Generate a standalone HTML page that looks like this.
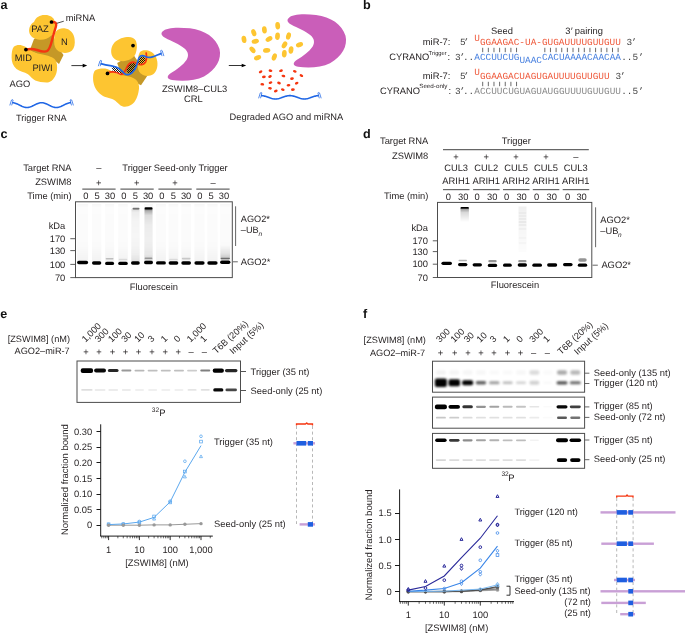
<!DOCTYPE html>
<html><head><meta charset="utf-8"><style>
html,body{margin:0;padding:0;background:#fff;}
svg{display:block;will-change:transform;text-rendering:geometricPrecision;font-family:"Liberation Sans",sans-serif;}
</style></head><body>
<svg width="685" height="633" viewBox="0 0 685 633">
<text x="0.6" y="8.8" font-size="12.6" text-anchor="start" fill="#111" font-weight="bold" >a</text>
<text x="362.9" y="8.8" font-size="12.6" text-anchor="start" fill="#111" font-weight="bold" >b</text>
<text x="0.4" y="137.6" font-size="12.6" text-anchor="start" fill="#111" font-weight="bold" >c</text>
<text x="362.9" y="137.7" font-size="12.6" text-anchor="start" fill="#111" font-weight="bold" >d</text>
<text x="0.2" y="317.6" font-size="12.6" text-anchor="start" fill="#111" font-weight="bold" >e</text>
<text x="362.9" y="317.7" font-size="12.6" text-anchor="start" fill="#111" font-weight="bold" >f</text>
<path d="M50,30 L34,39 L31,47 L30,51 L46,57.5 L56,61.5 L59,64 L63.5,55 L60,50 Z" fill="#c59827"/>
<path d="M34,22 C36,17 40,15 44.2,15 C49,14.5 53.5,17 54.5,20.5 C56.5,26 55,32 51.8,35.3 C47.5,39.5 42,40.5 38,39.5 C33,38.5 30,36 29.2,32 C28.7,28 30.5,24 34,22 Z" fill="#fdc531"/>
<path d="M55.6,32 C57.5,29 61,28 64.4,28.3 C70,28.8 74,33.5 74.6,39 C75.2,44 74.5,48 72,50.5 C69,53.5 63,53.6 59,51.6 C55.6,49.8 54,46 54.1,41.6 C54.2,37.5 54.3,34 55.6,32 Z" fill="#fdc531"/>
<path d="M13.8,46.7 C16,45 19,44.8 22,45.4 C26,46.3 29.5,50 33,51.7 C38,54 43,54.3 47,55.5 C52,57 55.3,58.5 56.4,62 C57.4,65.5 57.3,70 56.4,73 C55,78 51.5,82.2 47.5,82.4 C43,82.5 38.5,81.8 35.3,80.5 C32,79 30.5,76 28,74.3 C24.5,72 19.5,71.5 16.5,69 C13,66 11.6,62 11.6,57.5 C11.6,53 12,49 13.8,46.7 Z" fill="#fdc531"/>
<path d="M25.9,49.6 C30,48.6 33,48.8 37,50 C41,51.4 44.5,52.4 47,51 C49.5,49.5 50.6,46 51.8,41 C53,36 54.6,31 55.8,27 C56.7,24 56,22.5 54.5,22.2 C53.5,22 52.5,22 51.5,22" fill="none" stroke="#f5350f" stroke-width="2.4" stroke-linecap="round"/>
<circle cx="25.9" cy="49.6" r="1.85" fill="#000"/><circle cx="51.5" cy="22" r="1.85" fill="#000"/>
<line x1="56.8" y1="23.3" x2="63.8" y2="21.2" stroke="#000" stroke-width="0.7" />
<text x="65.7" y="21.4" font-size="9.35" text-anchor="start" fill="#231f20" font-weight="normal" >miRNA</text>
<text x="31.3" y="32.1" font-size="9.35" text-anchor="start" fill="#231f20" font-weight="normal" >PAZ</text>
<text x="61.0" y="44.8" font-size="9.35" text-anchor="start" fill="#231f20" font-weight="normal" >N</text>
<text x="14.8" y="60.6" font-size="9.35" text-anchor="start" fill="#231f20" font-weight="normal" >MID</text>
<text x="32.4" y="71.3" font-size="9.35" text-anchor="start" fill="#231f20" font-weight="normal" >PIWI</text>
<text x="9.6" y="86.6" font-size="9.35" text-anchor="start" fill="#231f20" font-weight="normal" >AGO</text>
<polyline points="12.20,102.70 12.93,102.73 13.67,102.82 14.40,102.96 15.14,103.16 15.88,103.40 16.61,103.69 17.34,104.01 18.08,104.36 18.81,104.72 19.55,105.10 20.29,105.48 21.02,105.84 21.75,106.19 22.49,106.51 23.22,106.80 23.96,107.04 24.70,107.24 25.43,107.38 26.16,107.47 26.90,107.50 27.63,107.47 28.37,107.38 29.10,107.24 29.84,107.04 30.57,106.80 31.31,106.51 32.05,106.19 32.78,105.84 33.52,105.48 34.25,105.10 34.98,104.72 35.72,104.36 36.45,104.01 37.19,103.69 37.92,103.40 38.66,103.16 39.39,102.96 40.13,102.82 40.86,102.73 41.60,102.70 42.33,102.73 43.07,102.82 43.80,102.96 44.54,103.16 45.27,103.40 46.01,103.69 46.75,104.01 47.48,104.36 48.22,104.72 48.95,105.10 49.68,105.48 50.42,105.84 51.16,106.19 51.89,106.51 52.62,106.80 53.36,107.04 54.09,107.24 54.83,107.38 55.56,107.47 56.30,107.50 57.03,107.47 57.77,107.38 58.50,107.24 59.24,107.04 59.97,106.80 60.71,106.51 61.44,106.19 62.18,105.84 62.92,105.48 63.65,105.10 64.38,104.72 65.12,104.36 65.85,104.01 66.59,103.69 67.33,103.40 68.06,103.16 68.80,102.96 69.53,102.82 70.27,102.73 71.00,102.70" fill="none" stroke="#1f66e5" stroke-width="1.6"/>
<path d="M9.80,105.40 L11.50,100.00 Q12.30,99.20 13.10,100.00 L11.70,105.40" stroke="#1f66e5" stroke-width="0.75" fill="none"/>
<path d="M73.40,105.40 L71.70,100.00 Q70.90,99.20 70.10,100.00 L71.50,105.40" stroke="#1f66e5" stroke-width="0.75" fill="none"/>
<text x="16" y="120.6" font-size="9.2" text-anchor="start" fill="#231f20" font-weight="normal" >Trigger RNA</text>
<line x1="71.4" y1="65.6" x2="84.2" y2="65.6" stroke="#000" stroke-width="0.8" />
<path d="M87.2,65.6 L82.7,63.8 L82.7,67.39999999999999 Z" fill="#000"/>
<line x1="228.8" y1="65.5" x2="243.2" y2="65.5" stroke="#000" stroke-width="0.8" />
<path d="M246.2,65.5 L241.7,63.7 L241.7,67.3 Z" fill="#000"/>
<path d="M117.2,62.9 L133,54 L147.2,76 L141,85.2 L121.6,75.5 Z" fill="#c59827"/>
<path d="M113.4,43.9 C116,40 122,37.5 127,37 C131,36.5 134.5,38 136,41 C137.5,45 137,50 135.5,54 C133.5,58.5 128,61 123,61.2 C118,61.3 114,59.5 112.2,56 C110.5,52 111,47 113.4,43.9 Z" fill="#fdc531"/>
<path d="M140,52 C142,50 145,49.8 148,50.6 C153,52 156.6,56 157.3,61.6 C158,67 156.5,72 153.2,74.3 C150,76.2 146,76.4 143,75 C139.5,73.5 138,70.5 137.8,67 C137.6,62 137.8,55.5 140,52 Z" fill="#fdc531"/>
<path d="M95,70.5 C98,68.7 102,68.2 105.2,68.6 C109,69.2 112,71.8 115.3,73 C120,74.8 124,75.6 128,76.2 C132,77 136,78.6 137.8,81.9 C139.3,84.8 139.3,88 138.7,90.7 C138,96 135.5,102 131.7,104.6 C128.5,106.8 125,107 122.9,106.5 C119.5,105.5 117.5,102.5 115.3,100.8 C111.5,98 106,98 102.6,95.8 C98,93 94.5,88 93.6,83.1 C92.8,78.5 92.8,73 95,70.5 Z" fill="#fdc531"/>
<clipPath id="h1"><path d="M111.5,66 L119,68.3 L122.5,72 L121.5,74.2 L118.5,73 L113,72 Z"/></clipPath>
<g clip-path="url(#h1)">
<line x1="96.00" y1="64" x2="108.00" y2="76" stroke="#111" stroke-width="1.0"/>
<line x1="98.00" y1="64" x2="110.00" y2="76" stroke="#111" stroke-width="1.0"/>
<line x1="100.00" y1="64" x2="112.00" y2="76" stroke="#111" stroke-width="1.0"/>
<line x1="102.00" y1="64" x2="114.00" y2="76" stroke="#111" stroke-width="1.0"/>
<line x1="104.00" y1="64" x2="116.00" y2="76" stroke="#111" stroke-width="1.0"/>
<line x1="106.00" y1="64" x2="118.00" y2="76" stroke="#111" stroke-width="1.0"/>
<line x1="108.00" y1="64" x2="120.00" y2="76" stroke="#111" stroke-width="1.0"/>
<line x1="110.00" y1="64" x2="122.00" y2="76" stroke="#111" stroke-width="1.0"/>
<line x1="112.00" y1="64" x2="124.00" y2="76" stroke="#111" stroke-width="1.0"/>
<line x1="114.00" y1="64" x2="126.00" y2="76" stroke="#111" stroke-width="1.0"/>
<line x1="116.00" y1="64" x2="128.00" y2="76" stroke="#111" stroke-width="1.0"/>
<line x1="118.00" y1="64" x2="130.00" y2="76" stroke="#111" stroke-width="1.0"/>
<line x1="120.00" y1="64" x2="132.00" y2="76" stroke="#111" stroke-width="1.0"/>
<line x1="122.00" y1="64" x2="134.00" y2="76" stroke="#111" stroke-width="1.0"/>
<line x1="124.00" y1="64" x2="136.00" y2="76" stroke="#111" stroke-width="1.0"/>
</g>
<clipPath id="h2"><path d="M127.5,65.5 L129.5,62.6 L133,62.3 L137,64 L135.3,68.8 L132,72.5 L128,73.8 L126.5,70 Z"/></clipPath>
<g clip-path="url(#h2)">
<line x1="108.00" y1="60" x2="124.00" y2="76" stroke="#111" stroke-width="1.0"/>
<line x1="110.00" y1="60" x2="126.00" y2="76" stroke="#111" stroke-width="1.0"/>
<line x1="112.00" y1="60" x2="128.00" y2="76" stroke="#111" stroke-width="1.0"/>
<line x1="114.00" y1="60" x2="130.00" y2="76" stroke="#111" stroke-width="1.0"/>
<line x1="116.00" y1="60" x2="132.00" y2="76" stroke="#111" stroke-width="1.0"/>
<line x1="118.00" y1="60" x2="134.00" y2="76" stroke="#111" stroke-width="1.0"/>
<line x1="120.00" y1="60" x2="136.00" y2="76" stroke="#111" stroke-width="1.0"/>
<line x1="122.00" y1="60" x2="138.00" y2="76" stroke="#111" stroke-width="1.0"/>
<line x1="124.00" y1="60" x2="140.00" y2="76" stroke="#111" stroke-width="1.0"/>
<line x1="126.00" y1="60" x2="142.00" y2="76" stroke="#111" stroke-width="1.0"/>
<line x1="128.00" y1="60" x2="144.00" y2="76" stroke="#111" stroke-width="1.0"/>
<line x1="130.00" y1="60" x2="146.00" y2="76" stroke="#111" stroke-width="1.0"/>
<line x1="132.00" y1="60" x2="148.00" y2="76" stroke="#111" stroke-width="1.0"/>
<line x1="134.00" y1="60" x2="150.00" y2="76" stroke="#111" stroke-width="1.0"/>
<line x1="136.00" y1="60" x2="152.00" y2="76" stroke="#111" stroke-width="1.0"/>
<line x1="138.00" y1="60" x2="154.00" y2="76" stroke="#111" stroke-width="1.0"/>
</g>
<clipPath id="h3"><path d="M138.2,58.5 L140.5,56.2 L144.5,56.5 L145.8,58.5 L145.3,62 L143,64.2 L139.5,64.6 L137.6,63.5 Z"/></clipPath>
<g clip-path="url(#h3)">
<line x1="122.00" y1="54" x2="135.00" y2="67" stroke="#111" stroke-width="1.0"/>
<line x1="124.00" y1="54" x2="137.00" y2="67" stroke="#111" stroke-width="1.0"/>
<line x1="126.00" y1="54" x2="139.00" y2="67" stroke="#111" stroke-width="1.0"/>
<line x1="128.00" y1="54" x2="141.00" y2="67" stroke="#111" stroke-width="1.0"/>
<line x1="130.00" y1="54" x2="143.00" y2="67" stroke="#111" stroke-width="1.0"/>
<line x1="132.00" y1="54" x2="145.00" y2="67" stroke="#111" stroke-width="1.0"/>
<line x1="134.00" y1="54" x2="147.00" y2="67" stroke="#111" stroke-width="1.0"/>
<line x1="136.00" y1="54" x2="149.00" y2="67" stroke="#111" stroke-width="1.0"/>
<line x1="138.00" y1="54" x2="151.00" y2="67" stroke="#111" stroke-width="1.0"/>
<line x1="140.00" y1="54" x2="153.00" y2="67" stroke="#111" stroke-width="1.0"/>
<line x1="142.00" y1="54" x2="155.00" y2="67" stroke="#111" stroke-width="1.0"/>
<line x1="144.00" y1="54" x2="157.00" y2="67" stroke="#111" stroke-width="1.0"/>
<line x1="146.00" y1="54" x2="159.00" y2="67" stroke="#111" stroke-width="1.0"/>
<line x1="148.00" y1="54" x2="161.00" y2="67" stroke="#111" stroke-width="1.0"/>
</g>
<path d="M107.6,73 C109.5,72 111.5,71.6 113.5,71.9 C116,72.3 118.5,73.2 120.5,74.2 C122,74.9 123.5,73.6 124.7,71.7 C125.7,70 126.3,68.5 127.3,66.5 C128.3,64.4 130,62.6 132.6,62.2 C134.5,62 136,63.3 137.5,64 C139,64.7 141,64.9 143.2,64.1 C145.3,63.2 146.2,61.5 146.4,59 C146.6,56.5 146.5,54.5 146.1,52.4" fill="none" stroke="#f5350f" stroke-width="1.7"/>
<path d="M100.7,63.6 C104,64.6 108,65.3 111.6,65.8 C114.5,66.3 117,67 119,68.5 C121,70 122.5,71.8 124.2,73.3 C125.8,74.6 127.5,74.9 129,74.5 C131,73.9 133,72 134.6,69.7 C136.2,67.4 137,64.6 137.7,61.8 C138.3,59.3 139,57 140.5,56 C142,55.1 144,55.8 145.8,56.8 C147.5,57.6 150,57.6 152.5,56.9 C155.5,56 158.5,54.4 161.5,53.4" fill="none" stroke="#1f66e5" stroke-width="1.7"/>
<circle cx="107.5" cy="73.4" r="1.85" fill="#000"/><circle cx="133" cy="45.6" r="1.85" fill="#000"/>
<path d="M98.30,66.20 L100.00,60.80 Q100.80,60.00 101.60,60.80 L100.20,66.20" stroke="#1f66e5" stroke-width="0.75" fill="none"/>
<path d="M163.90,56.10 L162.20,50.70 Q161.40,49.90 160.60,50.70 L162.00,56.10" stroke="#1f66e5" stroke-width="0.75" fill="none"/>
<path transform="translate(0,0)" d="M162.5,31.5 C166,27.5 177,27 190,28.3 C205,30 216,38 219.5,49 C222,59 216,70 204,76.5 C195,81 182,81.5 172,80 C166,79 167,75.5 171,73 C177,69.5 183,65 186.5,60 C189,56 188.5,52 184.5,48.5 C179.5,44 171,41 165.5,38 C161.5,36 160.5,33.5 162.5,31.5 Z" fill="#ca5eb9"/>
<path transform="translate(126,-13.3)" d="M162.5,31.5 C166,27.5 177,27 190,28.3 C205,30 216,38 219.5,49 C222,59 216,70 204,76.5 C195,81 182,81.5 172,80 C166,79 167,75.5 171,73 C177,69.5 183,65 186.5,60 C189,56 188.5,52 184.5,48.5 C179.5,44 171,41 165.5,38 C161.5,36 160.5,33.5 162.5,31.5 Z" fill="#ca5eb9"/>
<text x="194.6" y="91.6" font-size="9.35" text-anchor="middle" fill="#231f20" font-weight="normal" >ZSWIM8–CUL3</text>
<text x="193.4" y="102" font-size="9.35" text-anchor="middle" fill="#231f20" font-weight="normal" >CRL</text>
<ellipse cx="244" cy="39.4" rx="2.4" ry="3.7" transform="rotate(-10 244 39.4)" fill="#fdc531"/>
<ellipse cx="253.8" cy="32.7" rx="2.4" ry="3.7" transform="rotate(-20 253.8 32.7)" fill="#fdc531"/>
<ellipse cx="255.3" cy="41.3" rx="2.4" ry="3.7" transform="rotate(80 255.3 41.3)" fill="#fdc531"/>
<ellipse cx="252.5" cy="49.8" rx="2.4" ry="3.7" transform="rotate(-40 252.5 49.8)" fill="#fdc531"/>
<ellipse cx="257.6" cy="57.8" rx="2.4" ry="3.7" transform="rotate(70 257.6 57.8)" fill="#fdc531"/>
<ellipse cx="264.4" cy="29.9" rx="2.4" ry="3.7" transform="rotate(-5 264.4 29.9)" fill="#fdc531"/>
<ellipse cx="269" cy="39" rx="2.4" ry="3.7" transform="rotate(60 269 39)" fill="#fdc531"/>
<ellipse cx="266.7" cy="50.4" rx="2.4" ry="3.7" transform="rotate(85 266.7 50.4)" fill="#fdc531"/>
<ellipse cx="274.3" cy="57" rx="2.4" ry="3.7" transform="rotate(20 274.3 57)" fill="#fdc531"/>
<ellipse cx="277.7" cy="25.7" rx="2.4" ry="3.7" transform="rotate(-5 277.7 25.7)" fill="#fdc531"/>
<ellipse cx="277.5" cy="36.2" rx="2.4" ry="3.7" transform="rotate(5 277.5 36.2)" fill="#fdc531"/>
<ellipse cx="288.5" cy="36" rx="2.4" ry="3.7" transform="rotate(15 288.5 36)" fill="#fdc531"/>
<ellipse cx="284.5" cy="44.9" rx="2.4" ry="3.7" transform="rotate(30 284.5 44.9)" fill="#fdc531"/>
<ellipse cx="284.3" cy="53.8" rx="2.4" ry="3.7" transform="rotate(5 284.3 53.8)" fill="#fdc531"/>
<ellipse cx="291" cy="50" rx="2.4" ry="3.7" transform="rotate(10 291 50)" fill="#fdc531"/>
<ellipse cx="299.5" cy="44.7" rx="2.4" ry="3.7" transform="rotate(70 299.5 44.7)" fill="#fdc531"/>
<ellipse cx="260.6" cy="71.8" rx="1.9" ry="1.3" transform="rotate(-30 260.6 71.8)" fill="#f5350f"/>
<ellipse cx="270.5" cy="70.7" rx="1.9" ry="1.3" transform="rotate(7 270.5 70.7)" fill="#f5350f"/>
<ellipse cx="281" cy="70.7" rx="1.9" ry="1.3" transform="rotate(-16 281 70.7)" fill="#f5350f"/>
<ellipse cx="294.8" cy="71.4" rx="1.9" ry="1.3" transform="rotate(21 294.8 71.4)" fill="#f5350f"/>
<ellipse cx="263.9" cy="76.9" rx="1.9" ry="1.3" transform="rotate(-2 263.9 76.9)" fill="#f5350f"/>
<ellipse cx="270" cy="76.5" rx="1.9" ry="1.3" transform="rotate(-25 270 76.5)" fill="#f5350f"/>
<ellipse cx="283.4" cy="76" rx="1.9" ry="1.3" transform="rotate(12 283.4 76)" fill="#f5350f"/>
<ellipse cx="292" cy="78.6" rx="1.9" ry="1.3" transform="rotate(-11 292 78.6)" fill="#f5350f"/>
<ellipse cx="301.4" cy="75.6" rx="1.9" ry="1.3" transform="rotate(26 301.4 75.6)" fill="#f5350f"/>
<ellipse cx="262.3" cy="84.3" rx="1.9" ry="1.3" transform="rotate(3 262.3 84.3)" fill="#f5350f"/>
<ellipse cx="270.5" cy="82.6" rx="1.9" ry="1.3" transform="rotate(-20 270.5 82.6)" fill="#f5350f"/>
<ellipse cx="279" cy="83" rx="1.9" ry="1.3" transform="rotate(17 279 83)" fill="#f5350f"/>
<ellipse cx="288.5" cy="85.3" rx="1.9" ry="1.3" transform="rotate(-6 288.5 85.3)" fill="#f5350f"/>
<ellipse cx="296.7" cy="83.2" rx="1.9" ry="1.3" transform="rotate(-29 296.7 83.2)" fill="#f5350f"/>
<ellipse cx="270" cy="88.3" rx="1.9" ry="1.3" transform="rotate(8 270 88.3)" fill="#f5350f"/>
<ellipse cx="275.8" cy="91" rx="1.9" ry="1.3" transform="rotate(-15 275.8 91)" fill="#f5350f"/>
<ellipse cx="282.8" cy="89.6" rx="1.9" ry="1.3" transform="rotate(22 282.8 89.6)" fill="#f5350f"/>
<ellipse cx="292.9" cy="89.6" rx="1.9" ry="1.3" transform="rotate(-1 292.9 89.6)" fill="#f5350f"/>
<polyline points="261.00,95.60 261.72,95.62 262.44,95.68 263.17,95.79 263.89,95.92 264.61,96.10 265.33,96.30 266.06,96.53 266.78,96.77 267.50,97.03 268.23,97.30 268.95,97.57 269.67,97.83 270.39,98.07 271.12,98.30 271.84,98.50 272.56,98.68 273.28,98.81 274.00,98.92 274.73,98.98 275.45,99.00 276.17,98.98 276.89,98.92 277.62,98.81 278.34,98.68 279.06,98.50 279.79,98.30 280.51,98.07 281.23,97.83 281.95,97.57 282.68,97.30 283.40,97.03 284.12,96.77 284.84,96.53 285.56,96.30 286.29,96.10 287.01,95.92 287.73,95.79 288.45,95.68 289.18,95.62 289.90,95.60 290.62,95.62 291.35,95.68 292.07,95.79 292.79,95.92 293.51,96.10 294.24,96.30 294.96,96.53 295.68,96.77 296.40,97.03 297.12,97.30 297.85,97.57 298.57,97.83 299.29,98.07 300.01,98.30 300.74,98.50 301.46,98.68 302.18,98.81 302.91,98.92 303.63,98.98 304.35,99.00 305.07,98.98 305.80,98.92 306.52,98.81 307.24,98.68 307.96,98.50 308.69,98.30 309.41,98.07 310.13,97.83 310.85,97.57 311.57,97.30 312.30,97.03 313.02,96.77 313.74,96.53 314.47,96.30 315.19,96.10 315.91,95.92 316.63,95.79 317.36,95.68 318.08,95.62 318.80,95.60" fill="none" stroke="#1f66e5" stroke-width="1.6"/>
<path d="M258.60,98.30 L260.30,92.90 Q261.10,92.10 261.90,92.90 L260.50,98.30" stroke="#1f66e5" stroke-width="0.75" fill="none"/>
<path d="M321.20,98.30 L319.50,92.90 Q318.70,92.10 317.90,92.90 L319.30,98.30" stroke="#1f66e5" stroke-width="0.75" fill="none"/>
<text x="229.6" y="120.3" font-size="9.3" text-anchor="start" fill="#231f20" font-weight="normal" >Degraded AGO and miRNA</text>
<text x="491.0" y="33.9" font-size="9.35" text-anchor="start" fill="#231f20" font-weight="normal" >Seed</text>
<text x="565.3" y="33.9" font-size="9.35" text-anchor="start" fill="#231f20" font-weight="normal" >3<tspan font-style="italic">′</tspan> pairing</text>
<text x="450.3" y="45.1" font-size="9.35" text-anchor="end" fill="#231f20" font-weight="normal" >miR-7:</text>
<text x="460.0" y="45.2" font-size="9.4" fill="#444" font-family="Liberation Mono, monospace">5</text>
<text x="463.6" y="45.2" font-size="9.4" fill="#444" font-family="Liberation Mono, monospace">’</text>
<text x="474.3" y="41.4" font-size="9.4" fill="#ef5a3c" font-family="Liberation Mono, monospace" textLength="5.64" lengthAdjust="spacingAndGlyphs">U</text>
<text x="479.9" y="45.2" font-size="9.4" fill="#ef5a3c" font-family="Liberation Mono, monospace" textLength="141.00" lengthAdjust="spacingAndGlyphs">GGAAGAC-UA-GUGAUUUUGUUGUU</text>
<text x="626.6" y="45.2" font-size="9.4" fill="#444" font-family="Liberation Mono, monospace">3</text>
<text x="631.2" y="45.2" font-size="9.4" fill="#444" font-family="Liberation Mono, monospace">’</text>
<line x1="482.7" y1="47.8" x2="482.7" y2="52.2" stroke="#444" stroke-width="0.8" />
<line x1="488.34" y1="47.8" x2="488.34" y2="52.2" stroke="#444" stroke-width="0.8" />
<line x1="493.97999999999996" y1="47.8" x2="493.97999999999996" y2="52.2" stroke="#444" stroke-width="0.8" />
<line x1="499.62" y1="47.8" x2="499.62" y2="52.2" stroke="#444" stroke-width="0.8" />
<line x1="505.26" y1="47.8" x2="505.26" y2="52.2" stroke="#444" stroke-width="0.8" />
<line x1="510.9" y1="47.8" x2="510.9" y2="52.2" stroke="#444" stroke-width="0.8" />
<line x1="516.54" y1="47.8" x2="516.54" y2="52.2" stroke="#444" stroke-width="0.8" />
<line x1="544.82" y1="47.8" x2="544.82" y2="52.2" stroke="#444" stroke-width="0.8" />
<line x1="550.46" y1="47.8" x2="550.46" y2="52.2" stroke="#444" stroke-width="0.8" />
<line x1="556.1" y1="47.8" x2="556.1" y2="52.2" stroke="#444" stroke-width="0.8" />
<line x1="561.74" y1="47.8" x2="561.74" y2="52.2" stroke="#444" stroke-width="0.8" />
<line x1="567.38" y1="47.8" x2="567.38" y2="52.2" stroke="#444" stroke-width="0.8" />
<line x1="573.0200000000001" y1="47.8" x2="573.0200000000001" y2="52.2" stroke="#444" stroke-width="0.8" />
<line x1="578.6600000000001" y1="47.8" x2="578.6600000000001" y2="52.2" stroke="#444" stroke-width="0.8" />
<line x1="584.3000000000001" y1="47.8" x2="584.3000000000001" y2="52.2" stroke="#444" stroke-width="0.8" />
<line x1="589.94" y1="47.8" x2="589.94" y2="52.2" stroke="#444" stroke-width="0.8" />
<line x1="595.58" y1="47.8" x2="595.58" y2="52.2" stroke="#444" stroke-width="0.8" />
<line x1="601.22" y1="47.8" x2="601.22" y2="52.2" stroke="#444" stroke-width="0.8" />
<line x1="606.86" y1="47.8" x2="606.86" y2="52.2" stroke="#444" stroke-width="0.8" />
<line x1="612.5" y1="47.8" x2="612.5" y2="52.2" stroke="#444" stroke-width="0.8" />
<line x1="618.1400000000001" y1="47.8" x2="618.1400000000001" y2="52.2" stroke="#444" stroke-width="0.8" />
<text x="389.2" y="59.9" font-size="9.35" text-anchor="start" fill="#231f20" font-weight="normal" >CYRANO</text>
<text x="428.6" y="55.3" font-size="5.8" text-anchor="start" fill="#231f20" font-weight="normal" >Trigger</text>
<text x="447.6" y="59.9" font-size="9.35" text-anchor="start" fill="#231f20" font-weight="normal" >:</text>
<text x="455.0" y="60.1" font-size="9.4" fill="#444" font-family="Liberation Mono, monospace">3</text>
<text x="459.6" y="60.1" font-size="9.4" fill="#444" font-family="Liberation Mono, monospace">’</text>
<text x="462.9" y="60.1" font-size="9.4" fill="#444" font-family="Liberation Mono, monospace">..</text>
<text x="474.3" y="60.1" font-size="9.4" fill="#4a82e0" font-family="Liberation Mono, monospace" textLength="45.12" lengthAdjust="spacingAndGlyphs">ACCUUCUG</text>
<text x="519.4" y="62.9" font-size="9.4" fill="#4a82e0" font-family="Liberation Mono, monospace" textLength="22.56" lengthAdjust="spacingAndGlyphs">UAAC</text>
<text x="542.0" y="60.1" font-size="9.4" fill="#4a82e0" font-family="Liberation Mono, monospace" textLength="78.96" lengthAdjust="spacingAndGlyphs">CACUAAAACAACAA</text>
<text x="621.2" y="60.1" font-size="9.4" fill="#444" font-family="Liberation Mono, monospace">..</text>
<text x="632.6" y="60.1" font-size="9.4" fill="#444" font-family="Liberation Mono, monospace">5’</text>
<text x="450.3" y="79.2" font-size="9.35" text-anchor="end" fill="#231f20" font-weight="normal" >miR-7:</text>
<text x="460.0" y="79.2" font-size="9.4" fill="#444" font-family="Liberation Mono, monospace">5</text>
<text x="463.6" y="79.2" font-size="9.4" fill="#444" font-family="Liberation Mono, monospace">’</text>
<text x="474.3" y="75.4" font-size="9.4" fill="#ef5a3c" font-family="Liberation Mono, monospace" textLength="5.64" lengthAdjust="spacingAndGlyphs">U</text>
<text x="479.9" y="79.2" font-size="9.4" fill="#ef5a3c" font-family="Liberation Mono, monospace" textLength="129.72" lengthAdjust="spacingAndGlyphs">GGAAGACUAGUGAUUUUGUUGUU</text>
<text x="615.4" y="79.2" font-size="9.4" fill="#444" font-family="Liberation Mono, monospace">3</text>
<text x="620.0" y="79.2" font-size="9.4" fill="#444" font-family="Liberation Mono, monospace">’</text>
<line x1="482.7" y1="81.8" x2="482.7" y2="86.2" stroke="#444" stroke-width="0.8" />
<line x1="488.34" y1="81.8" x2="488.34" y2="86.2" stroke="#444" stroke-width="0.8" />
<line x1="493.97999999999996" y1="81.8" x2="493.97999999999996" y2="86.2" stroke="#444" stroke-width="0.8" />
<line x1="499.62" y1="81.8" x2="499.62" y2="86.2" stroke="#444" stroke-width="0.8" />
<line x1="505.26" y1="81.8" x2="505.26" y2="86.2" stroke="#444" stroke-width="0.8" />
<line x1="510.9" y1="81.8" x2="510.9" y2="86.2" stroke="#444" stroke-width="0.8" />
<line x1="516.54" y1="81.8" x2="516.54" y2="86.2" stroke="#444" stroke-width="0.8" />
<text x="380.1" y="93.5" font-size="9.35" text-anchor="start" fill="#231f20" font-weight="normal" >CYRANO</text>
<text x="419.2" y="88.4" font-size="6.0" text-anchor="start" fill="#231f20" font-weight="normal" textLength="28.3" lengthAdjust="spacingAndGlyphs">Seed-only</text>
<text x="448.6" y="93.5" font-size="9.35" text-anchor="start" fill="#231f20" font-weight="normal" >:</text>
<text x="455.0" y="93.7" font-size="9.4" fill="#444" font-family="Liberation Mono, monospace">3</text>
<text x="459.6" y="93.7" font-size="9.4" fill="#444" font-family="Liberation Mono, monospace">’</text>
<text x="462.9" y="93.7" font-size="9.4" fill="#444" font-family="Liberation Mono, monospace">..</text>
<text x="474.3" y="93.7" font-size="9.4" fill="#8a8a8a" font-family="Liberation Mono, monospace" textLength="146.64" lengthAdjust="spacingAndGlyphs">ACCUUCUGUAGUAUGGUUUUGUUGUU</text>
<text x="621.2" y="93.7" font-size="9.4" fill="#444" font-family="Liberation Mono, monospace">..</text>
<text x="632.6" y="93.7" font-size="9.4" fill="#444" font-family="Liberation Mono, monospace">5’</text>
<defs><filter id="bl1" x="-50%" y="-200%" width="200%" height="500%"><feGaussianBlur stdDeviation="0.5"/></filter><filter id="bl3" x="-50%" y="-200%" width="200%" height="500%"><feGaussianBlur stdDeviation="0.7"/></filter><filter id="bl2" x="-50%" y="-200%" width="200%" height="500%"><feGaussianBlur stdDeviation="0.9"/></filter><linearGradient id="smear" x1="0" y1="0" x2="0" y2="1"><stop offset="0" stop-color="#000" stop-opacity="0.02"/><stop offset="0.85" stop-color="#000" stop-opacity="0.10"/><stop offset="1" stop-color="#000" stop-opacity="0.25"/></linearGradient><linearGradient id="smear2" x1="0" y1="0" x2="0" y2="1"><stop offset="0" stop-color="#000" stop-opacity="0.35"/><stop offset="0.3" stop-color="#000" stop-opacity="0.12"/><stop offset="1" stop-color="#000" stop-opacity="0.05"/></linearGradient></defs>
<text x="71.5" y="170.9" font-size="9.35" text-anchor="end" fill="#231f20" font-weight="normal" >Target RNA</text>
<text x="71.5" y="184.5" font-size="9.35" text-anchor="end" fill="#231f20" font-weight="normal" >ZSWIM8</text>
<text x="71.5" y="198.8" font-size="9.35" text-anchor="end" fill="#231f20" font-weight="normal" >Time (min)</text>
<line x1="82.3" y1="189.2" x2="115.6" y2="189.2" stroke="#666" stroke-width="1.2" />
<text x="83.2" y="198.8" font-size="9.35" text-anchor="start" fill="#231f20" font-weight="normal" >0</text>
<text x="94.6" y="198.8" font-size="9.35" text-anchor="start" fill="#231f20" font-weight="normal" >5</text>
<text x="104.8" y="198.8" font-size="9.35" text-anchor="start" fill="#231f20" font-weight="normal" >30</text>
<line x1="120.4" y1="189.2" x2="153.7" y2="189.2" stroke="#666" stroke-width="1.2" />
<text x="121.30000000000001" y="198.8" font-size="9.35" text-anchor="start" fill="#231f20" font-weight="normal" >0</text>
<text x="132.70000000000002" y="198.8" font-size="9.35" text-anchor="start" fill="#231f20" font-weight="normal" >5</text>
<text x="142.9" y="198.8" font-size="9.35" text-anchor="start" fill="#231f20" font-weight="normal" >30</text>
<line x1="158.4" y1="189.2" x2="191.7" y2="189.2" stroke="#666" stroke-width="1.2" />
<text x="159.3" y="198.8" font-size="9.35" text-anchor="start" fill="#231f20" font-weight="normal" >0</text>
<text x="170.70000000000002" y="198.8" font-size="9.35" text-anchor="start" fill="#231f20" font-weight="normal" >5</text>
<text x="180.9" y="198.8" font-size="9.35" text-anchor="start" fill="#231f20" font-weight="normal" >30</text>
<line x1="196.3" y1="189.2" x2="229.60000000000002" y2="189.2" stroke="#666" stroke-width="1.2" />
<text x="197.20000000000002" y="198.8" font-size="9.35" text-anchor="start" fill="#231f20" font-weight="normal" >0</text>
<text x="208.60000000000002" y="198.8" font-size="9.35" text-anchor="start" fill="#231f20" font-weight="normal" >5</text>
<text x="218.8" y="198.8" font-size="9.35" text-anchor="start" fill="#231f20" font-weight="normal" >30</text>
<text x="98.8" y="171.4" font-size="9.35" text-anchor="middle" fill="#231f20" font-weight="normal" >–</text>
<text x="136.9" y="171.3" font-size="9.35" text-anchor="middle" fill="#231f20" font-weight="normal" >Trigger</text>
<text x="174.9" y="171.3" font-size="9.35" text-anchor="middle" fill="#231f20" font-weight="normal" >Seed-only</text>
<text x="213.1" y="171.3" font-size="9.35" text-anchor="middle" fill="#231f20" font-weight="normal" >Trigger</text>
<text x="98.8" y="185.8" font-size="9.35" text-anchor="middle" fill="#231f20" font-weight="normal" >+</text>
<text x="136.7" y="185.8" font-size="9.35" text-anchor="middle" fill="#231f20" font-weight="normal" >+</text>
<text x="174.9" y="185.8" font-size="9.35" text-anchor="middle" fill="#231f20" font-weight="normal" >+</text>
<text x="213.1" y="185.8" font-size="9.35" text-anchor="middle" fill="#231f20" font-weight="normal" >–</text>
<rect x="75.5" y="201.8" width="156.8" height="75.80000000000001" fill="#ffffff" stroke="#4d4d4d" stroke-width="1"/>
<defs><linearGradient id="lc0" x1="0" y1="0" x2="0" y2="1"><stop offset="0" stop-color="#000" stop-opacity="0.035"/><stop offset="0.06" stop-color="#000" stop-opacity="0.012"/><stop offset="0.2" stop-color="#000" stop-opacity="0.014"/><stop offset="0.7" stop-color="#000" stop-opacity="0.018"/><stop offset="1" stop-color="#000" stop-opacity="0.05"/></linearGradient></defs>
<rect x="77.1" y="204" width="11.0" height="58" fill="url(#lc0)" filter="url(#bl1)"/>
<rect x="77.10" y="260.80" width="11.00" height="3.40" fill="#000" fill-opacity="1.0" rx="1.70" filter="url(#bl1)"/>
<defs><linearGradient id="lc1" x1="0" y1="0" x2="0" y2="1"><stop offset="0" stop-color="#000" stop-opacity="0.035"/><stop offset="0.06" stop-color="#000" stop-opacity="0.012"/><stop offset="0.2" stop-color="#000" stop-opacity="0.014"/><stop offset="0.7" stop-color="#000" stop-opacity="0.018"/><stop offset="1" stop-color="#000" stop-opacity="0.05"/></linearGradient></defs>
<rect x="92" y="204" width="9.299999999999997" height="58" fill="url(#lc1)" filter="url(#bl1)"/>
<rect x="92.00" y="261.30" width="9.30" height="3.40" fill="#000" fill-opacity="1.0" rx="1.70" filter="url(#bl1)"/>
<defs><linearGradient id="lc2" x1="0" y1="0" x2="0" y2="1"><stop offset="0" stop-color="#000" stop-opacity="0.035"/><stop offset="0.06" stop-color="#000" stop-opacity="0.012"/><stop offset="0.2" stop-color="#000" stop-opacity="0.014"/><stop offset="0.7" stop-color="#000" stop-opacity="0.018"/><stop offset="1" stop-color="#000" stop-opacity="0.05"/></linearGradient></defs>
<rect x="105.1" y="204" width="9.0" height="58" fill="url(#lc2)" filter="url(#bl1)"/>
<rect x="105.10" y="261.70" width="9.00" height="3.40" fill="#000" fill-opacity="1.0" rx="1.70" filter="url(#bl1)"/>
<defs><linearGradient id="lc3" x1="0" y1="0" x2="0" y2="1"><stop offset="0" stop-color="#000" stop-opacity="0.035"/><stop offset="0.06" stop-color="#000" stop-opacity="0.012"/><stop offset="0.2" stop-color="#000" stop-opacity="0.014"/><stop offset="0.7" stop-color="#000" stop-opacity="0.018"/><stop offset="1" stop-color="#000" stop-opacity="0.05"/></linearGradient></defs>
<rect x="118.2" y="204" width="9.599999999999994" height="58" fill="url(#lc3)" filter="url(#bl1)"/>
<rect x="118.20" y="261.70" width="9.60" height="3.40" fill="#000" fill-opacity="1.0" rx="1.70" filter="url(#bl1)"/>
<defs><linearGradient id="lc4" x1="0" y1="0" x2="0" y2="1"><stop offset="0" stop-color="#000" stop-opacity="0.035"/><stop offset="0.06" stop-color="#000" stop-opacity="0.012"/><stop offset="0.2" stop-color="#000" stop-opacity="0.014"/><stop offset="0.7" stop-color="#000" stop-opacity="0.018"/><stop offset="1" stop-color="#000" stop-opacity="0.05"/></linearGradient></defs>
<rect x="131" y="204" width="8.800000000000011" height="58" fill="url(#lc4)" filter="url(#bl1)"/>
<rect x="131.00" y="261.30" width="8.80" height="3.40" fill="#000" fill-opacity="1.0" rx="1.70" filter="url(#bl1)"/>
<defs><linearGradient id="lc5" x1="0" y1="0" x2="0" y2="1"><stop offset="0" stop-color="#000" stop-opacity="0.035"/><stop offset="0.06" stop-color="#000" stop-opacity="0.012"/><stop offset="0.2" stop-color="#000" stop-opacity="0.014"/><stop offset="0.7" stop-color="#000" stop-opacity="0.018"/><stop offset="1" stop-color="#000" stop-opacity="0.05"/></linearGradient></defs>
<rect x="144" y="204" width="9" height="58" fill="url(#lc5)" filter="url(#bl1)"/>
<rect x="144.00" y="260.80" width="9.00" height="3.40" fill="#000" fill-opacity="1.0" rx="1.70" filter="url(#bl1)"/>
<defs><linearGradient id="lc6" x1="0" y1="0" x2="0" y2="1"><stop offset="0" stop-color="#000" stop-opacity="0.035"/><stop offset="0.06" stop-color="#000" stop-opacity="0.012"/><stop offset="0.2" stop-color="#000" stop-opacity="0.014"/><stop offset="0.7" stop-color="#000" stop-opacity="0.018"/><stop offset="1" stop-color="#000" stop-opacity="0.05"/></linearGradient></defs>
<rect x="156" y="204" width="9.900000000000006" height="58" fill="url(#lc6)" filter="url(#bl1)"/>
<rect x="156.00" y="261.20" width="9.90" height="3.40" fill="#000" fill-opacity="1.0" rx="1.70" filter="url(#bl1)"/>
<defs><linearGradient id="lc7" x1="0" y1="0" x2="0" y2="1"><stop offset="0" stop-color="#000" stop-opacity="0.035"/><stop offset="0.06" stop-color="#000" stop-opacity="0.012"/><stop offset="0.2" stop-color="#000" stop-opacity="0.014"/><stop offset="0.7" stop-color="#000" stop-opacity="0.018"/><stop offset="1" stop-color="#000" stop-opacity="0.05"/></linearGradient></defs>
<rect x="168.6" y="204" width="9.700000000000017" height="58" fill="url(#lc7)" filter="url(#bl1)"/>
<rect x="168.60" y="261.30" width="9.70" height="3.40" fill="#000" fill-opacity="1.0" rx="1.70" filter="url(#bl1)"/>
<defs><linearGradient id="lc8" x1="0" y1="0" x2="0" y2="1"><stop offset="0" stop-color="#000" stop-opacity="0.035"/><stop offset="0.06" stop-color="#000" stop-opacity="0.012"/><stop offset="0.2" stop-color="#000" stop-opacity="0.014"/><stop offset="0.7" stop-color="#000" stop-opacity="0.018"/><stop offset="1" stop-color="#000" stop-opacity="0.05"/></linearGradient></defs>
<rect x="181.3" y="204" width="9.699999999999989" height="58" fill="url(#lc8)" filter="url(#bl1)"/>
<rect x="181.30" y="261.30" width="9.70" height="3.40" fill="#000" fill-opacity="1.0" rx="1.70" filter="url(#bl1)"/>
<defs><linearGradient id="lc9" x1="0" y1="0" x2="0" y2="1"><stop offset="0" stop-color="#000" stop-opacity="0.035"/><stop offset="0.06" stop-color="#000" stop-opacity="0.012"/><stop offset="0.2" stop-color="#000" stop-opacity="0.014"/><stop offset="0.7" stop-color="#000" stop-opacity="0.018"/><stop offset="1" stop-color="#000" stop-opacity="0.05"/></linearGradient></defs>
<rect x="194.4" y="204" width="10.199999999999989" height="58" fill="url(#lc9)" filter="url(#bl1)"/>
<rect x="194.40" y="261.30" width="10.20" height="3.40" fill="#000" fill-opacity="1.0" rx="1.70" filter="url(#bl1)"/>
<defs><linearGradient id="lc10" x1="0" y1="0" x2="0" y2="1"><stop offset="0" stop-color="#000" stop-opacity="0.035"/><stop offset="0.06" stop-color="#000" stop-opacity="0.012"/><stop offset="0.2" stop-color="#000" stop-opacity="0.014"/><stop offset="0.7" stop-color="#000" stop-opacity="0.018"/><stop offset="1" stop-color="#000" stop-opacity="0.05"/></linearGradient></defs>
<rect x="207.3" y="204" width="10.299999999999983" height="58" fill="url(#lc10)" filter="url(#bl1)"/>
<rect x="207.30" y="261.30" width="10.30" height="3.40" fill="#000" fill-opacity="1.0" rx="1.70" filter="url(#bl1)"/>
<defs><linearGradient id="lc11" x1="0" y1="0" x2="0" y2="1"><stop offset="0" stop-color="#000" stop-opacity="0.035"/><stop offset="0.06" stop-color="#000" stop-opacity="0.012"/><stop offset="0.2" stop-color="#000" stop-opacity="0.014"/><stop offset="0.7" stop-color="#000" stop-opacity="0.018"/><stop offset="1" stop-color="#000" stop-opacity="0.05"/></linearGradient></defs>
<rect x="220.1" y="204" width="10.300000000000011" height="58" fill="url(#lc11)" filter="url(#bl1)"/>
<rect x="220.10" y="260.60" width="10.30" height="3.40" fill="#000" fill-opacity="1.0" rx="1.70" filter="url(#bl1)"/>
<defs><linearGradient id="sm5" x1="0" y1="0" x2="0" y2="1"><stop offset="0" stop-color="#000" stop-opacity="0.15"/><stop offset="0.06" stop-color="#000" stop-opacity="0.06"/><stop offset="0.2" stop-color="#000" stop-opacity="0.03"/><stop offset="0.5" stop-color="#000" stop-opacity="0.02"/><stop offset="0.85" stop-color="#000" stop-opacity="0.03"/><stop offset="1" stop-color="#000" stop-opacity="0.08"/></linearGradient></defs>
<rect x="131.5" y="209" width="8.0" height="53" fill="url(#sm5)" filter="url(#bl1)"/>
<defs><linearGradient id="sm6" x1="0" y1="0" x2="0" y2="1"><stop offset="0" stop-color="#000" stop-opacity="0.5"/><stop offset="0.04" stop-color="#000" stop-opacity="0.3"/><stop offset="0.12" stop-color="#000" stop-opacity="0.12"/><stop offset="0.3" stop-color="#000" stop-opacity="0.06"/><stop offset="0.6" stop-color="#000" stop-opacity="0.045"/><stop offset="0.85" stop-color="#000" stop-opacity="0.06"/><stop offset="1" stop-color="#000" stop-opacity="0.14"/></linearGradient></defs>
<rect x="144.5" y="209" width="8.0" height="53" fill="url(#sm6)" filter="url(#bl1)"/>
<rect x="132.50" y="207.80" width="7.00" height="1.60" fill="#000" fill-opacity="0.55" rx="0.80" filter="url(#bl1)"/>
<rect x="144.50" y="207.30" width="8.10" height="2.20" fill="#000" fill-opacity="1.0" rx="1.10" filter="url(#bl1)"/>
<rect x="105.60" y="258.00" width="8.00" height="1.60" fill="#000" fill-opacity="0.22" rx="0.80" filter="url(#bl1)"/>
<rect x="144.50" y="257.40" width="8.00" height="1.60" fill="#000" fill-opacity="0.3" rx="0.80" filter="url(#bl1)"/>
<rect x="181.80" y="257.80" width="8.70" height="1.60" fill="#000" fill-opacity="0.18" rx="0.80" filter="url(#bl1)"/>
<rect x="220.60" y="257.80" width="9.30" height="1.60" fill="#000" fill-opacity="0.45" rx="0.80" filter="url(#bl1)"/>
<rect x="118.70" y="258.70" width="8.60" height="1.60" fill="#000" fill-opacity="0.1" rx="0.80" filter="url(#bl1)"/>
<rect x="169.10" y="258.70" width="8.70" height="1.60" fill="#000" fill-opacity="0.1" rx="0.80" filter="url(#bl1)"/>
<defs><linearGradient id="sm12" x1="0" y1="0" x2="0" y2="1"><stop offset="0" stop-color="#000" stop-opacity="0.0"/><stop offset="0.6" stop-color="#000" stop-opacity="0.08"/><stop offset="1" stop-color="#000" stop-opacity="0.2"/></linearGradient></defs>
<rect x="220.5" y="245" width="9.5" height="14" fill="url(#sm12)" filter="url(#bl1)"/>
<line x1="70.3" y1="238.7" x2="75.5" y2="238.7" stroke="#4d4d4d" stroke-width="0.9" />
<text x="65.3" y="241.79999999999998" font-size="9.35" text-anchor="end" fill="#231f20" font-weight="normal" >170</text>
<line x1="70.3" y1="250.6" x2="75.5" y2="250.6" stroke="#4d4d4d" stroke-width="0.9" />
<text x="65.3" y="253.7" font-size="9.35" text-anchor="end" fill="#231f20" font-weight="normal" >130</text>
<line x1="70.3" y1="264.4" x2="75.5" y2="264.4" stroke="#4d4d4d" stroke-width="0.9" />
<text x="65.3" y="267.5" font-size="9.35" text-anchor="end" fill="#231f20" font-weight="normal" >100</text>
<line x1="70.3" y1="277.6" x2="75.5" y2="277.6" stroke="#4d4d4d" stroke-width="0.9" />
<text x="65.3" y="280.70000000000005" font-size="9.35" text-anchor="end" fill="#231f20" font-weight="normal" >70</text>
<text x="65.3" y="228.9" font-size="9.35" text-anchor="end" fill="#231f20" font-weight="normal" >kDa</text>
<line x1="235.6" y1="206.3" x2="235.6" y2="246" stroke="#555" stroke-width="0.9" />
<line x1="233" y1="261.8" x2="237.8" y2="261.8" stroke="#555" stroke-width="0.9" />
<text x="240.8" y="222" font-size="9.2" text-anchor="start" fill="#231f20" font-weight="normal" >AGO2*</text>
<text x="240.8" y="232.5" font-size="9.2" text-anchor="start" fill="#231f20" font-weight="normal" >–UB</text>
<text x="258.6" y="235.6" font-size="6.5" font-style="italic" fill="#231f20">n</text>
<text x="240.8" y="264.8" font-size="9.35" text-anchor="start" fill="#231f20" font-weight="normal" >AGO2*</text>
<text x="153.9" y="289.6" font-size="9.35" text-anchor="middle" fill="#231f20" font-weight="normal" >Fluorescein</text>
<text x="428.3" y="143.7" font-size="9.35" text-anchor="end" fill="#231f20" font-weight="normal" >Target RNA</text>
<text x="428.3" y="159.1" font-size="9.35" text-anchor="end" fill="#231f20" font-weight="normal" >ZSWIM8</text>
<text x="428.3" y="198.7" font-size="9.35" text-anchor="end" fill="#231f20" font-weight="normal" >Time (min)</text>
<text x="516.3" y="143.7" font-size="9.35" text-anchor="middle" fill="#231f20" font-weight="normal" >Trigger</text>
<line x1="443" y1="149.6" x2="588.8" y2="149.6" stroke="#666" stroke-width="1.2" />
<text x="456.1" y="159.7" font-size="9.35" text-anchor="middle" fill="#231f20" font-weight="normal" >+</text>
<text x="456.1" y="170.6" font-size="9.35" text-anchor="middle" fill="#231f20" font-weight="normal" >CUL3</text>
<text x="456.1" y="184.4" font-size="9.35" text-anchor="middle" fill="#231f20" font-weight="normal" >ARIH1</text>
<line x1="443" y1="189.6" x2="469.5" y2="189.6" stroke="#666" stroke-width="1.2" />
<text x="486.20000000000005" y="159.7" font-size="9.35" text-anchor="middle" fill="#231f20" font-weight="normal" >+</text>
<text x="486.20000000000005" y="170.6" font-size="9.35" text-anchor="middle" fill="#231f20" font-weight="normal" >CUL2</text>
<text x="486.20000000000005" y="184.4" font-size="9.35" text-anchor="middle" fill="#231f20" font-weight="normal" >ARIH1</text>
<line x1="473.1" y1="189.6" x2="499.6" y2="189.6" stroke="#666" stroke-width="1.2" />
<text x="516.1" y="159.7" font-size="9.35" text-anchor="middle" fill="#231f20" font-weight="normal" >+</text>
<text x="516.1" y="170.6" font-size="9.35" text-anchor="middle" fill="#231f20" font-weight="normal" >CUL5</text>
<text x="516.1" y="184.4" font-size="9.35" text-anchor="middle" fill="#231f20" font-weight="normal" >ARIH2</text>
<line x1="503" y1="189.6" x2="529.5" y2="189.6" stroke="#666" stroke-width="1.2" />
<text x="545.9" y="159.7" font-size="9.35" text-anchor="middle" fill="#231f20" font-weight="normal" >+</text>
<text x="545.9" y="170.6" font-size="9.35" text-anchor="middle" fill="#231f20" font-weight="normal" >CUL5</text>
<text x="545.9" y="184.4" font-size="9.35" text-anchor="middle" fill="#231f20" font-weight="normal" >ARIH1</text>
<line x1="532.8" y1="189.6" x2="559.3" y2="189.6" stroke="#666" stroke-width="1.2" />
<text x="575.8000000000001" y="159.7" font-size="9.35" text-anchor="middle" fill="#231f20" font-weight="normal" >–</text>
<text x="575.8000000000001" y="170.6" font-size="9.35" text-anchor="middle" fill="#231f20" font-weight="normal" >CUL3</text>
<text x="575.8000000000001" y="184.4" font-size="9.35" text-anchor="middle" fill="#231f20" font-weight="normal" >ARIH1</text>
<line x1="562.7" y1="189.6" x2="589.2" y2="189.6" stroke="#666" stroke-width="1.2" />
<rect x="437.5" y="202.4" width="154.29999999999995" height="75.1" fill="#ffffff" stroke="#4d4d4d" stroke-width="1"/>
<rect x="441.40" y="261.65" width="10.60" height="3.30" fill="#000" fill-opacity="1.0" rx="1.65" filter="url(#bl1)"/>
<rect x="458.00" y="262.95" width="9.40" height="3.30" fill="#000" fill-opacity="1.0" rx="1.65" filter="url(#bl1)"/>
<rect x="472.60" y="263.15" width="9.40" height="3.30" fill="#000" fill-opacity="1.0" rx="1.65" filter="url(#bl1)"/>
<rect x="487.80" y="263.75" width="9.40" height="3.30" fill="#000" fill-opacity="1.0" rx="1.65" filter="url(#bl1)"/>
<rect x="503.00" y="263.55" width="8.80" height="3.30" fill="#000" fill-opacity="1.0" rx="1.65" filter="url(#bl1)"/>
<rect x="517.70" y="263.35" width="9.30" height="3.30" fill="#000" fill-opacity="1.0" rx="1.65" filter="url(#bl1)"/>
<rect x="532.30" y="263.55" width="9.70" height="3.30" fill="#000" fill-opacity="1.0" rx="1.65" filter="url(#bl1)"/>
<rect x="547.10" y="263.35" width="10.10" height="3.30" fill="#000" fill-opacity="1.0" rx="1.65" filter="url(#bl1)"/>
<rect x="563.00" y="262.95" width="9.60" height="3.30" fill="#000" fill-opacity="1.0" rx="1.65" filter="url(#bl1)"/>
<rect x="577.80" y="263.55" width="9.40" height="3.30" fill="#000" fill-opacity="1.0" rx="1.65" filter="url(#bl1)"/>
<rect x="458.50" y="259.80" width="8.50" height="1.40" fill="#000" fill-opacity="0.3" rx="0.70" filter="url(#bl1)"/>
<rect x="488.30" y="260.10" width="8.40" height="2.20" fill="#000" fill-opacity="0.42" rx="1.10" filter="url(#bl1)"/>
<rect x="518.20" y="260.10" width="8.30" height="2.20" fill="#000" fill-opacity="0.4" rx="1.10" filter="url(#bl1)"/>
<rect x="578.30" y="258.25" width="8.40" height="3.50" fill="#000" fill-opacity="0.42" rx="1.75" filter="url(#bl1)"/>
<rect x="460.50" y="207.00" width="8.40" height="1.80" fill="#000" fill-opacity="1.0" rx="0.90" filter="url(#bl1)"/>
<defs><linearGradient id="smd2" x1="0" y1="0" x2="0" y2="1"><stop offset="0" stop-color="#000" stop-opacity="0.4"/><stop offset="0.3" stop-color="#000" stop-opacity="0.15"/><stop offset="1" stop-color="#000" stop-opacity="0.0"/></linearGradient></defs>
<rect x="460.5" y="208.5" width="8.399999999999977" height="13.5" fill="url(#smd2)" filter="url(#bl1)"/>
<defs><linearGradient id="smd6" x1="0" y1="0" x2="0" y2="1"><stop offset="0" stop-color="#000" stop-opacity="0.06"/><stop offset="0.3" stop-color="#000" stop-opacity="0.04"/><stop offset="0.6" stop-color="#000" stop-opacity="0.03"/><stop offset="1" stop-color="#000" stop-opacity="0.01"/></linearGradient></defs>
<rect x="518.5" y="206.5" width="8.0" height="45.5" fill="url(#smd6)" filter="url(#bl1)"/>
<rect x="518.50" y="212.55" width="8.00" height="0.90" fill="#000" fill-opacity="0.06" rx="0.45" filter="url(#bl1)"/>
<rect x="518.50" y="215.55" width="8.00" height="0.90" fill="#000" fill-opacity="0.06" rx="0.45" filter="url(#bl1)"/>
<rect x="518.50" y="218.55" width="8.00" height="0.90" fill="#000" fill-opacity="0.08" rx="0.45" filter="url(#bl1)"/>
<rect x="518.50" y="221.55" width="8.00" height="0.90" fill="#000" fill-opacity="0.1" rx="0.45" filter="url(#bl1)"/>
<rect x="518.50" y="224.55" width="8.00" height="0.90" fill="#000" fill-opacity="0.08" rx="0.45" filter="url(#bl1)"/>
<rect x="518.50" y="228.55" width="8.00" height="0.90" fill="#000" fill-opacity="0.06" rx="0.45" filter="url(#bl1)"/>
<rect x="518.50" y="237.55" width="8.00" height="0.90" fill="#000" fill-opacity="0.04" rx="0.45" filter="url(#bl1)"/>
<rect x="518.50" y="242.55" width="8.00" height="0.90" fill="#000" fill-opacity="0.04" rx="0.45" filter="url(#bl1)"/>
<line x1="432.8" y1="240.8" x2="437.5" y2="240.8" stroke="#4d4d4d" stroke-width="0.9" />
<text x="428" y="243.8" font-size="9.35" text-anchor="end" fill="#231f20" font-weight="normal" >170</text>
<line x1="432.8" y1="251.6" x2="437.5" y2="251.6" stroke="#4d4d4d" stroke-width="0.9" />
<text x="428" y="254.6" font-size="9.35" text-anchor="end" fill="#231f20" font-weight="normal" >130</text>
<line x1="432.8" y1="264.2" x2="437.5" y2="264.2" stroke="#4d4d4d" stroke-width="0.9" />
<text x="428" y="267.2" font-size="9.35" text-anchor="end" fill="#231f20" font-weight="normal" >100</text>
<line x1="432.8" y1="277.5" x2="437.5" y2="277.5" stroke="#4d4d4d" stroke-width="0.9" />
<text x="428" y="280.5" font-size="9.35" text-anchor="end" fill="#231f20" font-weight="normal" >70</text>
<text x="428" y="230.8" font-size="9.35" text-anchor="end" fill="#231f20" font-weight="normal" >kDa</text>
<text x="445.8" y="199.8" font-size="9.35" text-anchor="start" fill="#231f20" font-weight="normal" >0</text>
<text x="458.1" y="199.8" font-size="9.35" text-anchor="start" fill="#231f20" font-weight="normal" >30</text>
<text x="474.6" y="199.8" font-size="9.35" text-anchor="start" fill="#231f20" font-weight="normal" >0</text>
<text x="487.0" y="199.8" font-size="9.35" text-anchor="start" fill="#231f20" font-weight="normal" >30</text>
<text x="504.0" y="199.8" font-size="9.35" text-anchor="start" fill="#231f20" font-weight="normal" >0</text>
<text x="516.4" y="199.8" font-size="9.35" text-anchor="start" fill="#231f20" font-weight="normal" >30</text>
<text x="534.1" y="199.8" font-size="9.35" text-anchor="start" fill="#231f20" font-weight="normal" >0</text>
<text x="546.5" y="199.8" font-size="9.35" text-anchor="start" fill="#231f20" font-weight="normal" >30</text>
<text x="565.1" y="199.8" font-size="9.35" text-anchor="start" fill="#231f20" font-weight="normal" >0</text>
<text x="576.4" y="199.8" font-size="9.35" text-anchor="start" fill="#231f20" font-weight="normal" >30</text>
<line x1="595.6" y1="207.3" x2="595.6" y2="247.2" stroke="#555" stroke-width="0.9" />
<line x1="592.5" y1="265.2" x2="597.8" y2="265.2" stroke="#555" stroke-width="0.9" />
<text x="600.2" y="223.1" font-size="9.35" text-anchor="start" fill="#231f20" font-weight="normal" >AGO2*</text>
<text x="600.2" y="233.7" font-size="9.35" text-anchor="start" fill="#231f20" font-weight="normal" >–UB</text>
<text x="618.1" y="236.8" font-size="6.5" font-style="italic" fill="#231f20">n</text>
<text x="601.4" y="267.8" font-size="9.35" text-anchor="start" fill="#231f20" font-weight="normal" >AGO2*</text>
<text x="515" y="287.8" font-size="9.35" text-anchor="middle" fill="#231f20" font-weight="normal" >Fluorescein</text>
<text x="7.7" y="342" font-size="9.2" text-anchor="start" fill="#231f20" font-weight="normal" >[ZSWIM8] (nM)</text>
<text x="69.7" y="353.9" font-size="9.2" text-anchor="end" fill="#231f20" font-weight="normal" >AGO2–miR-7</text>
<text x="86" y="354.9" font-size="9.35" text-anchor="middle" fill="#231f20" font-weight="normal" >+</text>
<text x="99.1" y="354.9" font-size="9.35" text-anchor="middle" fill="#231f20" font-weight="normal" >+</text>
<text x="112.4" y="354.9" font-size="9.35" text-anchor="middle" fill="#231f20" font-weight="normal" >+</text>
<text x="125.5" y="354.9" font-size="9.35" text-anchor="middle" fill="#231f20" font-weight="normal" >+</text>
<text x="138.6" y="354.9" font-size="9.35" text-anchor="middle" fill="#231f20" font-weight="normal" >+</text>
<text x="152" y="354.9" font-size="9.35" text-anchor="middle" fill="#231f20" font-weight="normal" >+</text>
<text x="165.2" y="354.9" font-size="9.35" text-anchor="middle" fill="#231f20" font-weight="normal" >+</text>
<text x="178.2" y="354.9" font-size="9.35" text-anchor="middle" fill="#231f20" font-weight="normal" >+</text>
<text x="191.2" y="354.9" font-size="9.35" text-anchor="middle" fill="#231f20" font-weight="normal" >–</text>
<text x="204.3" y="354.9" font-size="9.35" text-anchor="middle" fill="#231f20" font-weight="normal" >–</text>
<text transform="translate(85.4,342.8) rotate(-45)" font-size="9.2" fill="#231f20">1,000</text>
<text transform="translate(98.5,342.8) rotate(-45)" font-size="9.2" fill="#231f20">300</text>
<text transform="translate(111.80000000000001,342.8) rotate(-45)" font-size="9.2" fill="#231f20">100</text>
<text transform="translate(124.9,342.8) rotate(-45)" font-size="9.2" fill="#231f20">30</text>
<text transform="translate(138.0,342.8) rotate(-45)" font-size="9.2" fill="#231f20">10</text>
<text transform="translate(151.4,342.8) rotate(-45)" font-size="9.2" fill="#231f20">3</text>
<text transform="translate(164.6,342.8) rotate(-45)" font-size="9.2" fill="#231f20">1</text>
<text transform="translate(177.6,342.8) rotate(-45)" font-size="9.2" fill="#231f20">0</text>
<text transform="translate(190.6,342.8) rotate(-45)" font-size="9.2" fill="#231f20">1,000</text>
<text transform="translate(203.70000000000002,342.8) rotate(-45)" font-size="9.2" fill="#231f20">1</text>
<text transform="translate(216.3,354.3) rotate(-42.5)" font-size="9.2" fill="#231f20">T6B (20%)</text>
<text transform="translate(233.0,354.6) rotate(-42.5)" font-size="9.2" fill="#231f20">Input (5%)</text>
<rect x="77" y="361" width="163.5" height="41.39999999999998" fill="#ffffff" stroke="#4d4d4d" stroke-width="1"/>
<rect x="80.70" y="368.30" width="12.40" height="4.60" fill="#000" fill-opacity="1" rx="2.00" filter="url(#bl3)"/>
<rect x="94.10" y="368.60" width="11.90" height="4.00" fill="#000" fill-opacity="0.97" rx="2.00" filter="url(#bl3)"/>
<rect x="107.85" y="369.10" width="10.70" height="3.00" fill="#000" fill-opacity="0.85" rx="1.50" filter="url(#bl3)"/>
<rect x="121.35" y="369.60" width="10.00" height="2.00" fill="#000" fill-opacity="0.4" rx="1.00" filter="url(#bl3)"/>
<rect x="134.50" y="369.70" width="10.00" height="1.80" fill="#000" fill-opacity="0.28" rx="0.90" filter="url(#bl3)"/>
<rect x="147.65" y="369.75" width="10.00" height="1.70" fill="#000" fill-opacity="0.25" rx="0.85" filter="url(#bl3)"/>
<rect x="160.80" y="369.75" width="10.00" height="1.70" fill="#000" fill-opacity="0.25" rx="0.85" filter="url(#bl3)"/>
<rect x="173.95" y="369.75" width="10.00" height="1.70" fill="#000" fill-opacity="0.25" rx="0.85" filter="url(#bl3)"/>
<rect x="187.10" y="369.70" width="10.00" height="1.80" fill="#000" fill-opacity="0.2" rx="0.90" filter="url(#bl3)"/>
<rect x="200.25" y="369.60" width="10.00" height="2.00" fill="#000" fill-opacity="0.5" rx="1.00" filter="url(#bl3)"/>
<rect x="212.70" y="368.40" width="11.20" height="4.40" fill="#000" fill-opacity="1" rx="2.00" filter="url(#bl3)"/>
<rect x="224.95" y="369.00" width="12.50" height="3.20" fill="#000" fill-opacity="0.85" rx="1.60" filter="url(#bl3)"/>
<rect x="81.20" y="389.10" width="11.40" height="1.60" fill="#000" fill-opacity="0.13" rx="0.80" filter="url(#bl3)"/>
<rect x="94.60" y="389.15" width="10.90" height="1.50" fill="#000" fill-opacity="0.1" rx="0.75" filter="url(#bl3)"/>
<rect x="108.35" y="389.15" width="9.70" height="1.50" fill="#000" fill-opacity="0.1" rx="0.75" filter="url(#bl3)"/>
<rect x="121.85" y="389.15" width="9.00" height="1.50" fill="#000" fill-opacity="0.1" rx="0.75" filter="url(#bl3)"/>
<rect x="135.00" y="389.15" width="9.00" height="1.50" fill="#000" fill-opacity="0.08" rx="0.75" filter="url(#bl3)"/>
<rect x="148.15" y="389.15" width="9.00" height="1.50" fill="#000" fill-opacity="0.08" rx="0.75" filter="url(#bl3)"/>
<rect x="161.30" y="389.15" width="9.00" height="1.50" fill="#000" fill-opacity="0.08" rx="0.75" filter="url(#bl3)"/>
<rect x="174.45" y="389.15" width="9.00" height="1.50" fill="#000" fill-opacity="0.08" rx="0.75" filter="url(#bl3)"/>
<rect x="187.60" y="389.00" width="9.00" height="1.80" fill="#000" fill-opacity="0.1" rx="0.90" filter="url(#bl3)"/>
<rect x="200.75" y="389.10" width="9.00" height="1.60" fill="#000" fill-opacity="0.12" rx="0.80" filter="url(#bl3)"/>
<rect x="213.20" y="388.20" width="10.20" height="3.40" fill="#000" fill-opacity="0.97" rx="1.70" filter="url(#bl3)"/>
<rect x="225.45" y="388.50" width="11.50" height="2.80" fill="#000" fill-opacity="0.72" rx="1.40" filter="url(#bl3)"/>
<line x1="240.8" y1="371.5" x2="246" y2="371.5" stroke="#555" stroke-width="1" />
<line x1="240.8" y1="390.5" x2="246" y2="390.5" stroke="#555" stroke-width="1" />
<text x="250.6" y="374.5" font-size="9.35" text-anchor="start" fill="#231f20" font-weight="normal" >Trigger (35 nt)</text>
<text x="250.6" y="393.9" font-size="9.35" text-anchor="start" fill="#231f20" font-weight="normal" >Seed-only (25 nt)</text>
<text x="151.8" y="411.8" font-size="6.6" text-anchor="start" fill="#231f20" font-weight="normal" >32</text>
<text x="159.2" y="415.8" font-size="9.4" text-anchor="start" fill="#231f20" font-weight="normal" >P</text>
<line x1="100.7" y1="424.3" x2="100.7" y2="536.1" stroke="#000" stroke-width="0.9" />
<line x1="100.2" y1="536.1" x2="212.8" y2="536.1" stroke="#000" stroke-width="0.9" />
<line x1="96.5" y1="431.5" x2="100.7" y2="431.5" stroke="#000" stroke-width="0.9" />
<text x="92.1" y="434.8" font-size="9.35" text-anchor="end" fill="#231f20" font-weight="normal" >0.30</text>
<line x1="96.5" y1="447.5" x2="100.7" y2="447.5" stroke="#000" stroke-width="0.9" />
<text x="92.1" y="450.40000000000003" font-size="9.35" text-anchor="end" fill="#231f20" font-weight="normal" >0.25</text>
<line x1="96.5" y1="462.5" x2="100.7" y2="462.5" stroke="#000" stroke-width="0.9" />
<text x="92.1" y="466.00000000000006" font-size="9.35" text-anchor="end" fill="#231f20" font-weight="normal" >0.20</text>
<line x1="96.5" y1="478.5" x2="100.7" y2="478.5" stroke="#000" stroke-width="0.9" />
<text x="92.1" y="481.6" font-size="9.35" text-anchor="end" fill="#231f20" font-weight="normal" >0.15</text>
<line x1="96.5" y1="494.5" x2="100.7" y2="494.5" stroke="#000" stroke-width="0.9" />
<text x="92.1" y="497.20000000000005" font-size="9.35" text-anchor="end" fill="#231f20" font-weight="normal" >0.10</text>
<line x1="96.5" y1="509.5" x2="100.7" y2="509.5" stroke="#000" stroke-width="0.9" />
<text x="92.1" y="512.8000000000001" font-size="9.35" text-anchor="end" fill="#231f20" font-weight="normal" >0.05</text>
<line x1="96.5" y1="525.5" x2="100.7" y2="525.5" stroke="#000" stroke-width="0.9" />
<text x="92.1" y="528.4000000000001" font-size="9.35" text-anchor="end" fill="#231f20" font-weight="normal" >0</text>
<line x1="108.6" y1="536.1" x2="108.6" y2="540.1" stroke="#000" stroke-width="0.8" />
<line x1="117.87172386645062" y1="536.1" x2="117.87172386645062" y2="538.3000000000001" stroke="#000" stroke-width="0.6" />
<line x1="123.2953346453656" y1="536.1" x2="123.2953346453656" y2="538.3000000000001" stroke="#000" stroke-width="0.6" />
<line x1="127.14344773290124" y1="536.1" x2="127.14344773290124" y2="538.3000000000001" stroke="#000" stroke-width="0.6" />
<line x1="130.12827613354938" y1="536.1" x2="130.12827613354938" y2="538.3000000000001" stroke="#000" stroke-width="0.6" />
<line x1="132.5670585118162" y1="536.1" x2="132.5670585118162" y2="538.3000000000001" stroke="#000" stroke-width="0.6" />
<line x1="134.6290196324391" y1="536.1" x2="134.6290196324391" y2="538.3000000000001" stroke="#000" stroke-width="0.6" />
<line x1="136.41517159935185" y1="536.1" x2="136.41517159935185" y2="538.3000000000001" stroke="#000" stroke-width="0.6" />
<line x1="137.9906692907312" y1="536.1" x2="137.9906692907312" y2="538.3000000000001" stroke="#000" stroke-width="0.6" />
<line x1="139.4" y1="536.1" x2="139.4" y2="540.1" stroke="#000" stroke-width="0.8" />
<line x1="148.67172386645063" y1="536.1" x2="148.67172386645063" y2="538.3000000000001" stroke="#000" stroke-width="0.6" />
<line x1="154.0953346453656" y1="536.1" x2="154.0953346453656" y2="538.3000000000001" stroke="#000" stroke-width="0.6" />
<line x1="157.94344773290123" y1="536.1" x2="157.94344773290123" y2="538.3000000000001" stroke="#000" stroke-width="0.6" />
<line x1="160.9282761335494" y1="536.1" x2="160.9282761335494" y2="538.3000000000001" stroke="#000" stroke-width="0.6" />
<line x1="163.36705851181623" y1="536.1" x2="163.36705851181623" y2="538.3000000000001" stroke="#000" stroke-width="0.6" />
<line x1="165.42901963243912" y1="536.1" x2="165.42901963243912" y2="538.3000000000001" stroke="#000" stroke-width="0.6" />
<line x1="167.21517159935186" y1="536.1" x2="167.21517159935186" y2="538.3000000000001" stroke="#000" stroke-width="0.6" />
<line x1="168.7906692907312" y1="536.1" x2="168.7906692907312" y2="538.3000000000001" stroke="#000" stroke-width="0.6" />
<line x1="170.2" y1="536.1" x2="170.2" y2="540.1" stroke="#000" stroke-width="0.8" />
<line x1="179.47172386645062" y1="536.1" x2="179.47172386645062" y2="538.3000000000001" stroke="#000" stroke-width="0.6" />
<line x1="184.8953346453656" y1="536.1" x2="184.8953346453656" y2="538.3000000000001" stroke="#000" stroke-width="0.6" />
<line x1="188.74344773290125" y1="536.1" x2="188.74344773290125" y2="538.3000000000001" stroke="#000" stroke-width="0.6" />
<line x1="191.72827613354937" y1="536.1" x2="191.72827613354937" y2="538.3000000000001" stroke="#000" stroke-width="0.6" />
<line x1="194.1670585118162" y1="536.1" x2="194.1670585118162" y2="538.3000000000001" stroke="#000" stroke-width="0.6" />
<line x1="196.2290196324391" y1="536.1" x2="196.2290196324391" y2="538.3000000000001" stroke="#000" stroke-width="0.6" />
<line x1="198.01517159935185" y1="536.1" x2="198.01517159935185" y2="538.3000000000001" stroke="#000" stroke-width="0.6" />
<line x1="199.5906692907312" y1="536.1" x2="199.5906692907312" y2="538.3000000000001" stroke="#000" stroke-width="0.6" />
<line x1="201.0" y1="536.1" x2="201.0" y2="540.1" stroke="#000" stroke-width="0.8" />
<line x1="210.2717238664506" y1="536.1" x2="210.2717238664506" y2="538.3000000000001" stroke="#000" stroke-width="0.6" />
<line x1="101.76705851181622" y1="536.1" x2="101.76705851181622" y2="538.3" stroke="#000" stroke-width="0.6" />
<line x1="103.8290196324391" y1="536.1" x2="103.8290196324391" y2="538.3" stroke="#000" stroke-width="0.6" />
<line x1="105.61517159935185" y1="536.1" x2="105.61517159935185" y2="538.3" stroke="#000" stroke-width="0.6" />
<line x1="107.1906692907312" y1="536.1" x2="107.1906692907312" y2="538.3" stroke="#000" stroke-width="0.6" />
<text x="108.6" y="552.7" font-size="9.35" text-anchor="middle" fill="#231f20" font-weight="normal" >1</text>
<text x="139.4" y="552.7" font-size="9.35" text-anchor="middle" fill="#231f20" font-weight="normal" >10</text>
<text x="170.2" y="552.7" font-size="9.35" text-anchor="middle" fill="#231f20" font-weight="normal" >100</text>
<text x="201.0" y="552.7" font-size="9.35" text-anchor="middle" fill="#231f20" font-weight="normal" >1,000</text>
<text x="156.9" y="566.3" font-size="9.35" text-anchor="middle" fill="#231f20" font-weight="normal" >[ZSWIM8] (nM)</text>
<text transform="translate(67.9,479.6) rotate(-90)" font-size="9.5" text-anchor="middle" fill="#231f20">Normalized fraction bound</text>
<polyline points="108.60,525.20 123.30,525.20 139.40,525.20 154.10,524.89 170.20,524.89 184.90,524.26 201.00,523.64" fill="none" stroke="#999999" stroke-width="1"/>
<polyline points="108.60,524.58 123.30,523.95 139.40,522.08 154.10,517.40 170.20,501.80 184.90,472.16 201.00,445.64" fill="none" stroke="#5aa7ee" stroke-width="1"/>
<circle cx="108.60" cy="524.58" r="1.35" fill="none" stroke="#5aa7ee" stroke-width="0.75"/>
<rect x="107.25" y="522.91" width="2.7" height="2.7" fill="none" stroke="#5aa7ee" stroke-width="0.75"/>
<circle cx="123.30" cy="523.95" r="1.35" fill="none" stroke="#5aa7ee" stroke-width="0.75"/>
<rect x="121.95" y="522.91" width="2.7" height="2.7" fill="none" stroke="#5aa7ee" stroke-width="0.75"/>
<circle cx="139.40" cy="521.46" r="1.35" fill="none" stroke="#5aa7ee" stroke-width="0.75"/>
<rect x="138.05" y="521.04" width="2.7" height="2.7" fill="none" stroke="#5aa7ee" stroke-width="0.75"/>
<rect x="152.75" y="515.11" width="2.7" height="2.7" fill="none" stroke="#5aa7ee" stroke-width="0.75"/>
<path d="M154.10,517.34 L155.58,520.04 L152.61,520.04 Z" fill="none" stroke="#5aa7ee" stroke-width="0.75"/>
<circle cx="170.20" cy="501.18" r="1.35" fill="none" stroke="#5aa7ee" stroke-width="0.75"/>
<rect x="168.85" y="501.07" width="2.7" height="2.7" fill="none" stroke="#5aa7ee" stroke-width="0.75"/>
<circle cx="184.90" cy="461.24" r="1.35" fill="none" stroke="#5aa7ee" stroke-width="0.75"/>
<rect x="183.55" y="470.19" width="2.7" height="2.7" fill="none" stroke="#5aa7ee" stroke-width="0.75"/>
<path d="M184.90,475.22 L186.38,477.92 L183.41,477.92 Z" fill="none" stroke="#5aa7ee" stroke-width="0.75"/>
<circle cx="201.00" cy="436.28" r="1.35" fill="none" stroke="#5aa7ee" stroke-width="0.75"/>
<rect x="199.65" y="440.23" width="2.7" height="2.7" fill="none" stroke="#5aa7ee" stroke-width="0.75"/>
<path d="M201.00,454.94 L202.49,457.64 L199.51,457.64 Z" fill="none" stroke="#5aa7ee" stroke-width="0.75"/>
<circle cx="108.60" cy="525.20" r="1.7" fill="#999999"/>
<circle cx="123.30" cy="525.20" r="1.7" fill="#999999"/>
<circle cx="139.40" cy="525.20" r="1.7" fill="#999999"/>
<circle cx="154.10" cy="524.89" r="1.7" fill="#999999"/>
<circle cx="170.20" cy="524.89" r="1.7" fill="#999999"/>
<circle cx="184.90" cy="524.26" r="1.7" fill="#999999"/>
<circle cx="201.00" cy="523.64" r="1.7" fill="#999999"/>
<text x="214" y="445.3" font-size="9.35" text-anchor="start" fill="#231f20" font-weight="normal" >Trigger (35 nt)</text>
<text x="214" y="526.6" font-size="9.35" text-anchor="start" fill="#231f20" font-weight="normal" >Seed-only (25 nt)</text>
<path d="M296.5,425.6 L296.5,424 L305.5,424 C306.0,424 306.3,422.8 306.7,422.8 C307.1,422.8 307.4,424 307.9,424 L312.5,424 L312.5,425.6" fill="none" stroke="#f5350f" stroke-width="1.3"/>
<line x1="296.5" y1="426" x2="296.5" y2="524" stroke="#888" stroke-width="0.6" stroke-dasharray="3,2.6"/>
<line x1="312.5" y1="426" x2="312.5" y2="524" stroke="#888" stroke-width="0.6" stroke-dasharray="3,2.6"/>
<rect x="293.4" y="442.1" width="21.600000000000023" height="2.4" fill="#c9a0d6"/>
<rect x="296.5" y="441.0" width="9.699999999999989" height="4.6" fill="#1f5fe0"/>
<rect x="307.8" y="441.0" width="5.199999999999989" height="4.6" fill="#1f5fe0"/>
<rect x="299.6" y="523.1999999999999" width="15.399999999999977" height="2.4" fill="#c9a0d6"/>
<rect x="307.8" y="522.1" width="5.199999999999989" height="4.6" fill="#1f5fe0"/>
<text x="363.6" y="342.9" font-size="9.2" text-anchor="start" fill="#231f20" font-weight="normal" >[ZSWIM8] (nM)</text>
<text x="425.1" y="355.7" font-size="9.2" text-anchor="end" fill="#231f20" font-weight="normal" >AGO2–miR-7</text>
<text x="440.4" y="356.1" font-size="9.35" text-anchor="middle" fill="#231f20" font-weight="normal" >+</text>
<text x="454.8" y="356.1" font-size="9.35" text-anchor="middle" fill="#231f20" font-weight="normal" >+</text>
<text x="468" y="356.1" font-size="9.35" text-anchor="middle" fill="#231f20" font-weight="normal" >+</text>
<text x="480.9" y="356.1" font-size="9.35" text-anchor="middle" fill="#231f20" font-weight="normal" >+</text>
<text x="494" y="356.1" font-size="9.35" text-anchor="middle" fill="#231f20" font-weight="normal" >+</text>
<text x="507.4" y="356.1" font-size="9.35" text-anchor="middle" fill="#231f20" font-weight="normal" >+</text>
<text x="520.6" y="356.1" font-size="9.35" text-anchor="middle" fill="#231f20" font-weight="normal" >+</text>
<text x="533.7" y="356.1" font-size="9.35" text-anchor="middle" fill="#231f20" font-weight="normal" >–</text>
<text x="547.4" y="356.1" font-size="9.35" text-anchor="middle" fill="#231f20" font-weight="normal" >–</text>
<text transform="translate(439.79999999999995,343.0) rotate(-45)" font-size="9.2" fill="#231f20">300</text>
<text transform="translate(454.2,343.0) rotate(-45)" font-size="9.2" fill="#231f20">100</text>
<text transform="translate(467.4,343.0) rotate(-45)" font-size="9.2" fill="#231f20">30</text>
<text transform="translate(480.29999999999995,343.0) rotate(-45)" font-size="9.2" fill="#231f20">10</text>
<text transform="translate(493.4,343.0) rotate(-45)" font-size="9.2" fill="#231f20">3</text>
<text transform="translate(506.79999999999995,343.0) rotate(-45)" font-size="9.2" fill="#231f20">1</text>
<text transform="translate(520.0,343.0) rotate(-45)" font-size="9.2" fill="#231f20">0</text>
<text transform="translate(533.1,343.0) rotate(-45)" font-size="9.2" fill="#231f20">300</text>
<text transform="translate(546.8,343.0) rotate(-45)" font-size="9.2" fill="#231f20">1</text>
<text transform="translate(561,355) rotate(-42.5)" font-size="9.2" fill="#231f20">T6B (20%)</text>
<text transform="translate(577.5,355.2) rotate(-42.5)" font-size="9.2" fill="#231f20">Input (5%)</text>
<rect x="432.5" y="361.2" width="152.10000000000002" height="31.0" fill="#ffffff" stroke="#4d4d4d" stroke-width="1"/>
<rect x="432.5" y="397.1" width="152.10000000000002" height="31.099999999999966" fill="#ffffff" stroke="#4d4d4d" stroke-width="1"/>
<rect x="432.5" y="433.4" width="152.10000000000002" height="34.900000000000034" fill="#ffffff" stroke="#4d4d4d" stroke-width="1"/>
<rect x="434.90" y="378.55" width="12.00" height="8.50" fill="#000" fill-opacity="1" rx="2.00" filter="url(#bl2)"/>
<rect x="448.50" y="379.30" width="11.50" height="7.00" fill="#000" fill-opacity="1" rx="2.00" filter="url(#bl2)"/>
<rect x="462.10" y="380.30" width="11.00" height="5.00" fill="#000" fill-opacity="1" rx="2.00" filter="url(#bl2)"/>
<rect x="475.70" y="381.00" width="10.50" height="3.60" fill="#000" fill-opacity="0.62" rx="1.80" filter="url(#bl2)"/>
<rect x="489.05" y="381.30" width="10.50" height="3.00" fill="#000" fill-opacity="0.38" rx="1.50" filter="url(#bl2)"/>
<rect x="502.65" y="381.50" width="10.00" height="2.60" fill="#000" fill-opacity="0.28" rx="1.30" filter="url(#bl2)"/>
<rect x="516.00" y="381.60" width="10.00" height="2.40" fill="#000" fill-opacity="0.18" rx="1.20" filter="url(#bl2)"/>
<rect x="529.35" y="380.80" width="10.00" height="4.00" fill="#000" fill-opacity="0.18" rx="2.00" filter="url(#bl2)"/>
<rect x="543.20" y="381.80" width="9.00" height="2.00" fill="#000" fill-opacity="0.03" rx="1.00" filter="url(#bl2)"/>
<rect x="556.50" y="381.20" width="11.00" height="3.20" fill="#000" fill-opacity="0.68" rx="1.60" filter="url(#bl2)"/>
<rect x="569.80" y="381.30" width="11.00" height="3.00" fill="#000" fill-opacity="0.58" rx="1.50" filter="url(#bl2)"/>
<rect x="435.90" y="370.35" width="10.00" height="4.50" fill="#000" fill-opacity="0.05" rx="2.00" filter="url(#bl2)"/>
<rect x="449.25" y="370.35" width="10.00" height="4.50" fill="#000" fill-opacity="0.045" rx="2.00" filter="url(#bl2)"/>
<rect x="462.60" y="370.35" width="10.00" height="4.50" fill="#000" fill-opacity="0.04" rx="2.00" filter="url(#bl2)"/>
<rect x="475.95" y="370.35" width="10.00" height="4.50" fill="#000" fill-opacity="0.03" rx="2.00" filter="url(#bl2)"/>
<rect x="489.30" y="370.35" width="10.00" height="4.50" fill="#000" fill-opacity="0.025" rx="2.00" filter="url(#bl2)"/>
<rect x="502.65" y="370.35" width="10.00" height="4.50" fill="#000" fill-opacity="0.025" rx="2.00" filter="url(#bl2)"/>
<rect x="516.00" y="370.35" width="10.00" height="4.50" fill="#000" fill-opacity="0.03" rx="2.00" filter="url(#bl2)"/>
<rect x="529.35" y="370.35" width="10.00" height="4.50" fill="#000" fill-opacity="0.14" rx="2.00" filter="url(#bl2)"/>
<rect x="542.70" y="370.35" width="10.00" height="4.50" fill="#000" fill-opacity="0.02" rx="2.00" filter="url(#bl2)"/>
<rect x="557.00" y="370.35" width="10.00" height="4.50" fill="#000" fill-opacity="0.33" rx="2.00" filter="url(#bl2)"/>
<rect x="570.30" y="370.35" width="10.00" height="4.50" fill="#000" fill-opacity="0.28" rx="2.00" filter="url(#bl2)"/>
<rect x="434.90" y="404.40" width="12.00" height="4.80" fill="#000" fill-opacity="1" rx="2.00" filter="url(#bl3)"/>
<rect x="448.50" y="404.90" width="11.50" height="3.80" fill="#000" fill-opacity="1" rx="1.90" filter="url(#bl3)"/>
<rect x="462.35" y="405.30" width="10.50" height="3.00" fill="#000" fill-opacity="0.8" rx="1.50" filter="url(#bl3)"/>
<rect x="475.95" y="405.70" width="10.00" height="2.20" fill="#000" fill-opacity="0.42" rx="1.10" filter="url(#bl3)"/>
<rect x="489.30" y="405.75" width="10.00" height="2.10" fill="#000" fill-opacity="0.36" rx="1.05" filter="url(#bl3)"/>
<rect x="502.65" y="405.80" width="10.00" height="2.00" fill="#000" fill-opacity="0.27" rx="1.00" filter="url(#bl3)"/>
<rect x="516.00" y="405.80" width="10.00" height="2.00" fill="#000" fill-opacity="0.23" rx="1.00" filter="url(#bl3)"/>
<rect x="529.35" y="406.00" width="10.00" height="1.60" fill="#000" fill-opacity="0.1" rx="0.80" filter="url(#bl3)"/>
<rect x="543.20" y="406.10" width="9.00" height="1.40" fill="#000" fill-opacity="0.02" rx="0.70" filter="url(#bl3)"/>
<rect x="556.50" y="405.20" width="11.00" height="3.20" fill="#000" fill-opacity="0.97" rx="1.60" filter="url(#bl3)"/>
<rect x="569.80" y="405.40" width="11.00" height="2.80" fill="#000" fill-opacity="0.75" rx="1.40" filter="url(#bl3)"/>
<rect x="435.90" y="416.80" width="10.00" height="1.80" fill="#000" fill-opacity="0.22" rx="0.90" filter="url(#bl3)"/>
<rect x="449.25" y="416.80" width="10.00" height="1.80" fill="#000" fill-opacity="0.2" rx="0.90" filter="url(#bl3)"/>
<rect x="462.60" y="416.80" width="10.00" height="1.80" fill="#000" fill-opacity="0.14" rx="0.90" filter="url(#bl3)"/>
<rect x="475.95" y="416.80" width="10.00" height="1.80" fill="#000" fill-opacity="0.12" rx="0.90" filter="url(#bl3)"/>
<rect x="489.30" y="416.80" width="10.00" height="1.80" fill="#000" fill-opacity="0.12" rx="0.90" filter="url(#bl3)"/>
<rect x="502.65" y="416.80" width="10.00" height="1.80" fill="#000" fill-opacity="0.12" rx="0.90" filter="url(#bl3)"/>
<rect x="516.00" y="416.80" width="10.00" height="1.80" fill="#000" fill-opacity="0.12" rx="0.90" filter="url(#bl3)"/>
<rect x="529.35" y="416.80" width="10.00" height="1.80" fill="#000" fill-opacity="0.08" rx="0.90" filter="url(#bl3)"/>
<rect x="542.70" y="416.80" width="10.00" height="1.80" fill="#000" fill-opacity="0.02" rx="0.90" filter="url(#bl3)"/>
<rect x="557.00" y="416.50" width="10.00" height="2.40" fill="#000" fill-opacity="0.65" rx="1.20" filter="url(#bl3)"/>
<rect x="570.30" y="416.50" width="10.00" height="2.40" fill="#000" fill-opacity="0.55" rx="1.20" filter="url(#bl3)"/>
<rect x="435.15" y="438.50" width="11.50" height="3.60" fill="#000" fill-opacity="1" rx="1.80" filter="url(#bl3)"/>
<rect x="449.00" y="438.90" width="10.50" height="2.80" fill="#000" fill-opacity="0.78" rx="1.40" filter="url(#bl3)"/>
<rect x="462.60" y="439.20" width="10.00" height="2.20" fill="#000" fill-opacity="0.45" rx="1.10" filter="url(#bl3)"/>
<rect x="475.95" y="439.30" width="10.00" height="2.00" fill="#000" fill-opacity="0.36" rx="1.00" filter="url(#bl3)"/>
<rect x="489.30" y="439.30" width="10.00" height="2.00" fill="#000" fill-opacity="0.3" rx="1.00" filter="url(#bl3)"/>
<rect x="502.65" y="439.40" width="10.00" height="1.80" fill="#000" fill-opacity="0.26" rx="0.90" filter="url(#bl3)"/>
<rect x="516.00" y="439.40" width="10.00" height="1.80" fill="#000" fill-opacity="0.26" rx="0.90" filter="url(#bl3)"/>
<rect x="529.85" y="439.60" width="9.00" height="1.40" fill="#000" fill-opacity="0.05" rx="0.70" filter="url(#bl3)"/>
<rect x="543.20" y="439.80" width="9.00" height="1.00" fill="#000" fill-opacity="0.0" rx="0.50" filter="url(#bl3)"/>
<rect x="556.00" y="438.30" width="12.00" height="4.00" fill="#000" fill-opacity="1" rx="2.00" filter="url(#bl3)"/>
<rect x="569.55" y="438.60" width="11.50" height="3.40" fill="#000" fill-opacity="1" rx="1.70" filter="url(#bl3)"/>
<rect x="435.70" y="459.30" width="10.40" height="1.60" fill="#000" fill-opacity="0.16" rx="0.80" filter="url(#bl3)"/>
<rect x="449.05" y="459.30" width="10.40" height="1.60" fill="#000" fill-opacity="0.14" rx="0.80" filter="url(#bl3)"/>
<rect x="462.40" y="459.30" width="10.40" height="1.60" fill="#000" fill-opacity="0.14" rx="0.80" filter="url(#bl3)"/>
<rect x="475.75" y="459.30" width="10.40" height="1.60" fill="#000" fill-opacity="0.13" rx="0.80" filter="url(#bl3)"/>
<rect x="489.10" y="459.30" width="10.40" height="1.60" fill="#000" fill-opacity="0.13" rx="0.80" filter="url(#bl3)"/>
<rect x="502.45" y="459.30" width="10.40" height="1.60" fill="#000" fill-opacity="0.13" rx="0.80" filter="url(#bl3)"/>
<rect x="515.80" y="459.30" width="10.40" height="1.60" fill="#000" fill-opacity="0.13" rx="0.80" filter="url(#bl3)"/>
<rect x="529.15" y="459.30" width="10.40" height="1.60" fill="#000" fill-opacity="0.05" rx="0.80" filter="url(#bl3)"/>
<rect x="542.50" y="459.30" width="10.40" height="1.60" fill="#000" fill-opacity="0.0" rx="0.80" filter="url(#bl3)"/>
<rect x="556.80" y="458.20" width="10.40" height="3.80" fill="#000" fill-opacity="1" rx="1.90" filter="url(#bl3)"/>
<rect x="570.10" y="458.20" width="10.40" height="3.80" fill="#000" fill-opacity="1" rx="1.90" filter="url(#bl3)"/>
<line x1="584.6" y1="373.2" x2="589.4" y2="373.2" stroke="#555" stroke-width="0.9" />
<line x1="584.6" y1="383.5" x2="589.4" y2="383.5" stroke="#555" stroke-width="0.9" />
<line x1="584.6" y1="406.9" x2="589.4" y2="406.9" stroke="#555" stroke-width="0.9" />
<line x1="584.6" y1="417.4" x2="589.4" y2="417.4" stroke="#555" stroke-width="0.9" />
<line x1="584.6" y1="440" x2="589.4" y2="440" stroke="#555" stroke-width="0.9" />
<line x1="584.6" y1="459.7" x2="589.4" y2="459.7" stroke="#555" stroke-width="0.9" />
<text x="593.8" y="375.8" font-size="9.35" text-anchor="start" fill="#231f20" font-weight="normal" >Seed-only (135 nt)</text>
<text x="593.8" y="386.3" font-size="9.35" text-anchor="start" fill="#231f20" font-weight="normal" >Trigger (120 nt)</text>
<text x="593.8" y="409.3" font-size="9.35" text-anchor="start" fill="#231f20" font-weight="normal" >Trigger (85 nt)</text>
<text x="593.8" y="420" font-size="9.35" text-anchor="start" fill="#231f20" font-weight="normal" >Seed-only (72 nt)</text>
<text x="593.8" y="442.6" font-size="9.35" text-anchor="start" fill="#231f20" font-weight="normal" >Trigger (35 nt)</text>
<text x="593.8" y="462.3" font-size="9.35" text-anchor="start" fill="#231f20" font-weight="normal" >Seed-only (25 nt)</text>
<text x="501.4" y="475.7" font-size="6.6" text-anchor="start" fill="#231f20" font-weight="normal" >32</text>
<text x="508.3" y="480.5" font-size="9.4" text-anchor="start" fill="#231f20" font-weight="normal" >P</text>
<line x1="399.6" y1="489.4" x2="399.6" y2="601.6" stroke="#000" stroke-width="0.9" />
<line x1="399.1" y1="601.6" x2="514" y2="601.6" stroke="#000" stroke-width="0.9" />
<line x1="395" y1="513.5" x2="399.6" y2="513.5" stroke="#000" stroke-width="0.9" />
<text x="391.6" y="516.3000000000001" font-size="9.35" text-anchor="end" fill="#231f20" font-weight="normal" >1.5</text>
<line x1="395" y1="539.5" x2="399.6" y2="539.5" stroke="#000" stroke-width="0.9" />
<text x="391.6" y="542.5000000000001" font-size="9.35" text-anchor="end" fill="#231f20" font-weight="normal" >1.0</text>
<line x1="395" y1="565.5" x2="399.6" y2="565.5" stroke="#000" stroke-width="0.9" />
<text x="391.6" y="568.7" font-size="9.35" text-anchor="end" fill="#231f20" font-weight="normal" >0.5</text>
<line x1="395" y1="591.5" x2="399.6" y2="591.5" stroke="#000" stroke-width="0.9" />
<text x="391.6" y="594.9000000000001" font-size="9.35" text-anchor="end" fill="#231f20" font-weight="normal" >0</text>
<line x1="400.3134450138112" y1="601.6" x2="400.3134450138112" y2="603.8000000000001" stroke="#000" stroke-width="0.6" />
<line x1="402.72352944051323" y1="601.6" x2="402.72352944051323" y2="603.8000000000001" stroke="#000" stroke-width="0.6" />
<line x1="404.81123953171" y1="601.6" x2="404.81123953171" y2="603.8000000000001" stroke="#000" stroke-width="0.6" />
<line x1="406.6527303398157" y1="601.6" x2="406.6527303398157" y2="603.8000000000001" stroke="#000" stroke-width="0.6" />
<line x1="408.3" y1="601.6" x2="408.3" y2="605.6" stroke="#000" stroke-width="0.8" />
<line x1="419.13707984390334" y1="601.6" x2="419.13707984390334" y2="603.8000000000001" stroke="#000" stroke-width="0.6" />
<line x1="425.47636516990787" y1="601.6" x2="425.47636516990787" y2="603.8000000000001" stroke="#000" stroke-width="0.6" />
<line x1="429.97415968780666" y1="601.6" x2="429.97415968780666" y2="603.8000000000001" stroke="#000" stroke-width="0.6" />
<line x1="433.4629201560967" y1="601.6" x2="433.4629201560967" y2="603.8000000000001" stroke="#000" stroke-width="0.6" />
<line x1="436.3134450138112" y1="601.6" x2="436.3134450138112" y2="603.8000000000001" stroke="#000" stroke-width="0.6" />
<line x1="438.72352944051323" y1="601.6" x2="438.72352944051323" y2="603.8000000000001" stroke="#000" stroke-width="0.6" />
<line x1="440.81123953171" y1="601.6" x2="440.81123953171" y2="603.8000000000001" stroke="#000" stroke-width="0.6" />
<line x1="442.6527303398157" y1="601.6" x2="442.6527303398157" y2="603.8000000000001" stroke="#000" stroke-width="0.6" />
<line x1="444.3" y1="601.6" x2="444.3" y2="605.6" stroke="#000" stroke-width="0.8" />
<line x1="455.13707984390334" y1="601.6" x2="455.13707984390334" y2="603.8000000000001" stroke="#000" stroke-width="0.6" />
<line x1="461.47636516990787" y1="601.6" x2="461.47636516990787" y2="603.8000000000001" stroke="#000" stroke-width="0.6" />
<line x1="465.97415968780666" y1="601.6" x2="465.97415968780666" y2="603.8000000000001" stroke="#000" stroke-width="0.6" />
<line x1="469.4629201560967" y1="601.6" x2="469.4629201560967" y2="603.8000000000001" stroke="#000" stroke-width="0.6" />
<line x1="472.3134450138112" y1="601.6" x2="472.3134450138112" y2="603.8000000000001" stroke="#000" stroke-width="0.6" />
<line x1="474.7235294405133" y1="601.6" x2="474.7235294405133" y2="603.8000000000001" stroke="#000" stroke-width="0.6" />
<line x1="476.81123953171" y1="601.6" x2="476.81123953171" y2="603.8000000000001" stroke="#000" stroke-width="0.6" />
<line x1="478.6527303398157" y1="601.6" x2="478.6527303398157" y2="603.8000000000001" stroke="#000" stroke-width="0.6" />
<line x1="480.3" y1="601.6" x2="480.3" y2="605.6" stroke="#000" stroke-width="0.8" />
<line x1="491.13707984390334" y1="601.6" x2="491.13707984390334" y2="603.8000000000001" stroke="#000" stroke-width="0.6" />
<line x1="497.47636516990787" y1="601.6" x2="497.47636516990787" y2="603.8000000000001" stroke="#000" stroke-width="0.6" />
<line x1="501.97415968780666" y1="601.6" x2="501.97415968780666" y2="603.8000000000001" stroke="#000" stroke-width="0.6" />
<line x1="505.4629201560967" y1="601.6" x2="505.4629201560967" y2="603.8000000000001" stroke="#000" stroke-width="0.6" />
<line x1="508.3134450138112" y1="601.6" x2="508.3134450138112" y2="603.8000000000001" stroke="#000" stroke-width="0.6" />
<line x1="510.7235294405133" y1="601.6" x2="510.7235294405133" y2="603.8000000000001" stroke="#000" stroke-width="0.6" />
<line x1="512.81123953171" y1="601.6" x2="512.81123953171" y2="603.8000000000001" stroke="#000" stroke-width="0.6" />
<text x="408.3" y="617.7" font-size="9.35" text-anchor="middle" fill="#231f20" font-weight="normal" >1</text>
<text x="444.3" y="617.7" font-size="9.35" text-anchor="middle" fill="#231f20" font-weight="normal" >10</text>
<text x="480.3" y="617.7" font-size="9.35" text-anchor="middle" fill="#231f20" font-weight="normal" >100</text>
<text x="456.6" y="631.0" font-size="9.35" text-anchor="middle" fill="#231f20" font-weight="normal" >[ZSWIM8] (nM)</text>
<text transform="translate(372.1,544.9) rotate(-90)" font-size="9.5" text-anchor="middle" fill="#231f20">Normalized fraction bound</text>
<polyline points="408.30,591.70 425.48,591.70 444.30,591.70 461.48,591.70 480.30,590.65 497.48,590.13" fill="none" stroke="#aaaaaa" stroke-width="1.1"/>
<circle cx="408.30" cy="591.70" r="1.7" fill="#aaaaaa"/>
<circle cx="425.48" cy="591.70" r="1.7" fill="#aaaaaa"/>
<circle cx="444.30" cy="591.70" r="1.7" fill="#aaaaaa"/>
<circle cx="461.48" cy="591.70" r="1.7" fill="#aaaaaa"/>
<circle cx="480.30" cy="590.65" r="1.7" fill="#aaaaaa"/>
<circle cx="497.48" cy="590.13" r="1.7" fill="#aaaaaa"/>
<polyline points="408.30,591.70 425.48,591.70 444.30,591.70 461.48,591.18 480.30,590.13 497.48,589.08" fill="none" stroke="#888888" stroke-width="1.1"/>
<circle cx="408.30" cy="591.70" r="1.7" fill="#888888"/>
<circle cx="425.48" cy="591.70" r="1.7" fill="#888888"/>
<circle cx="444.30" cy="591.70" r="1.7" fill="#888888"/>
<circle cx="461.48" cy="591.18" r="1.7" fill="#888888"/>
<circle cx="480.30" cy="590.13" r="1.7" fill="#888888"/>
<circle cx="497.48" cy="589.08" r="1.7" fill="#888888"/>
<polyline points="408.30,591.70 425.48,591.70 444.30,591.70 461.48,591.18 480.30,589.60 497.48,587.51" fill="none" stroke="#6a6a6a" stroke-width="1.1"/>
<circle cx="408.30" cy="591.70" r="1.7" fill="#6a6a6a"/>
<circle cx="425.48" cy="591.70" r="1.7" fill="#6a6a6a"/>
<circle cx="444.30" cy="591.70" r="1.7" fill="#6a6a6a"/>
<circle cx="461.48" cy="591.18" r="1.7" fill="#6a6a6a"/>
<circle cx="480.30" cy="589.60" r="1.7" fill="#6a6a6a"/>
<circle cx="497.48" cy="587.51" r="1.7" fill="#6a6a6a"/>
<polyline points="408.30,591.44 425.48,591.44 444.30,591.18 461.48,591.18 480.30,590.13 497.48,586.46" fill="none" stroke="#505050" stroke-width="1.1"/>
<circle cx="408.30" cy="591.44" r="1.7" fill="#505050"/>
<circle cx="425.48" cy="591.44" r="1.7" fill="#505050"/>
<circle cx="444.30" cy="591.18" r="1.7" fill="#505050"/>
<circle cx="461.48" cy="591.18" r="1.7" fill="#505050"/>
<circle cx="480.30" cy="590.13" r="1.7" fill="#505050"/>
<circle cx="497.48" cy="586.46" r="1.7" fill="#505050"/>
<polyline points="408.30,591.70 425.48,591.44 444.30,591.18 461.48,590.13 480.30,589.08 497.48,584.89" fill="none" stroke="#7ab8f0" stroke-width="1"/>
<polyline points="408.30,591.18 425.48,590.13 444.30,588.56 461.48,582.79 480.30,568.12 497.48,546.11" fill="none" stroke="#3a86e8" stroke-width="1.1"/>
<polyline points="408.30,590.13 425.48,586.46 444.30,575.98 461.48,557.64 480.30,538.25 497.48,515.72" fill="none" stroke="#2a2a9a" stroke-width="1.1"/>
<path d="M408.30,587.46 L409.79,590.16 L406.81,590.16 Z" fill="none" stroke="#2a2a9a" stroke-width="1.0"/>
<path d="M425.48,579.60 L426.96,582.30 L423.99,582.30 Z" fill="none" stroke="#2a2a9a" stroke-width="1.0"/>
<path d="M444.30,564.40 L445.79,567.10 L442.81,567.10 Z" fill="none" stroke="#2a2a9a" stroke-width="1.0"/>
<path d="M461.48,537.68 L462.96,540.38 L459.99,540.38 Z" fill="none" stroke="#2a2a9a" stroke-width="1.0"/>
<path d="M480.30,518.29 L481.79,520.99 L478.81,520.99 Z" fill="none" stroke="#2a2a9a" stroke-width="1.0"/>
<path d="M497.48,494.71 L498.96,497.41 L495.99,497.41 Z" fill="none" stroke="#2a2a9a" stroke-width="1.0"/>
<circle cx="425.48" cy="588.03" r="1.35" fill="none" stroke="#2a2a9a" stroke-width="1.0"/>
<circle cx="444.30" cy="580.17" r="1.35" fill="none" stroke="#2a2a9a" stroke-width="1.0"/>
<circle cx="461.48" cy="565.50" r="1.35" fill="none" stroke="#2a2a9a" stroke-width="1.0"/>
<path d="M461.48,566.89 L462.83,568.64 L461.48,570.40 L460.13,568.64 Z" fill="none" stroke="#2a2a9a" stroke-width="1.0"/>
<circle cx="480.30" cy="547.16" r="1.35" fill="none" stroke="#2a2a9a" stroke-width="1.0"/>
<circle cx="497.48" cy="524.63" r="1.35" fill="none" stroke="#2a2a9a" stroke-width="1.0"/>
<path d="M497.48,523.40 L498.83,525.15 L497.48,526.91 L496.13,525.15 Z" fill="none" stroke="#2a2a9a" stroke-width="1.0"/>
<circle cx="408.30" cy="590.13" r="1.35" fill="none" stroke="#2a2a9a" stroke-width="1.0"/>
<circle cx="461.48" cy="581.22" r="1.35" fill="none" stroke="#3a86e8" stroke-width="0.75"/>
<path d="M461.48,582.09 L462.83,583.84 L461.48,585.60 L460.13,583.84 Z" fill="none" stroke="#3a86e8" stroke-width="0.75"/>
<circle cx="480.30" cy="560.26" r="1.35" fill="none" stroke="#3a86e8" stroke-width="0.75"/>
<circle cx="480.30" cy="571.79" r="1.35" fill="none" stroke="#3a86e8" stroke-width="0.75"/>
<path d="M480.30,572.65 L481.65,574.41 L480.30,576.16 L478.95,574.41 Z" fill="none" stroke="#3a86e8" stroke-width="0.75"/>
<circle cx="497.48" cy="533.01" r="1.35" fill="none" stroke="#3a86e8" stroke-width="0.75"/>
<path d="M497.48,549.07 L498.83,550.83 L497.48,552.58 L496.13,550.83 Z" fill="none" stroke="#3a86e8" stroke-width="0.75"/>
<rect x="496.13" y="553.67" width="2.7" height="2.7" fill="none" stroke="#3a86e8" stroke-width="0.75"/>
<circle cx="444.30" cy="588.56" r="1.35" fill="none" stroke="#3a86e8" stroke-width="0.75"/>
<path d="M497.48,582.22 L498.96,584.92 L495.99,584.92 Z" fill="none" stroke="#7ab8f0" stroke-width="0.75"/>
<rect x="496.13" y="584.06" width="2.7" height="2.7" fill="none" stroke="#7ab8f0" stroke-width="0.75"/>
<circle cx="480.30" cy="589.08" r="1.35" fill="none" stroke="#7ab8f0" stroke-width="0.75"/>
<path d="M506.5,586.2 L510,586.2 L510,595.2 L506.5,595.2" fill="none" stroke="#000" stroke-width="0.8"/>
<text x="514.4" y="514.6" font-size="9.25" text-anchor="start" fill="#231f20" font-weight="normal" >Trigger (120 nt)</text>
<text x="514.4" y="545.6" font-size="9.25" text-anchor="start" fill="#231f20" font-weight="normal" >Trigger (85 nt)</text>
<text x="514.4" y="582.4" font-size="9.25" text-anchor="start" fill="#231f20" font-weight="normal" >Trigger (35 nt)</text>
<text x="514.4" y="594.3" font-size="9.25" text-anchor="start" fill="#231f20" font-weight="normal" >Seed-only (135 nt)</text>
<text x="590.9" y="605.2" font-size="9.25" text-anchor="end" fill="#231f20" font-weight="normal" >(72 nt)</text>
<text x="590.9" y="616.2" font-size="9.25" text-anchor="end" fill="#231f20" font-weight="normal" >(25 nt)</text>
<path d="M616.7,497.8 L616.7,496.2 L625.85,496.2 C626.35,496.2 626.65,495.0 627.0500000000001,495.0 C627.45,495.0 627.75,496.2 628.25,496.2 L633,496.2 L633,497.8" fill="none" stroke="#f5350f" stroke-width="1.3"/>
<line x1="616.7" y1="498" x2="616.7" y2="615" stroke="#888" stroke-width="0.6" stroke-dasharray="3,2.6"/>
<line x1="633.1" y1="498" x2="633.1" y2="615" stroke="#888" stroke-width="0.6" stroke-dasharray="3,2.6"/>
<rect x="600.5" y="511.2" width="75.0" height="2.4" fill="#c9a0d6"/>
<rect x="616.7" y="510.09999999999997" width="10.199999999999932" height="4.6" fill="#1f5fe0"/>
<rect x="628.3" y="510.09999999999997" width="4.800000000000068" height="4.6" fill="#1f5fe0"/>
<rect x="601.3" y="542.5" width="52.60000000000002" height="2.4" fill="#c9a0d6"/>
<rect x="616.7" y="541.4000000000001" width="10.199999999999932" height="4.6" fill="#1f5fe0"/>
<rect x="628.3" y="541.4000000000001" width="4.800000000000068" height="4.6" fill="#1f5fe0"/>
<rect x="614" y="578.8" width="21" height="2.4" fill="#c9a0d6"/>
<rect x="616.7" y="577.7" width="10.199999999999932" height="4.6" fill="#1f5fe0"/>
<rect x="628.3" y="577.7" width="4.800000000000068" height="4.6" fill="#1f5fe0"/>
<rect x="600.5" y="590.0999999999999" width="85.5" height="2.4" fill="#c9a0d6"/>
<rect x="628.3" y="589.0" width="4.800000000000068" height="4.6" fill="#1f5fe0"/>
<rect x="601.3" y="601.6999999999999" width="44.5" height="2.4" fill="#c9a0d6"/>
<rect x="628.3" y="600.6" width="4.800000000000068" height="4.6" fill="#1f5fe0"/>
<rect x="620.2" y="613.0" width="14.799999999999955" height="2.4" fill="#c9a0d6"/>
<rect x="628.3" y="611.9000000000001" width="4.800000000000068" height="4.6" fill="#1f5fe0"/>
</svg>
</body></html>
